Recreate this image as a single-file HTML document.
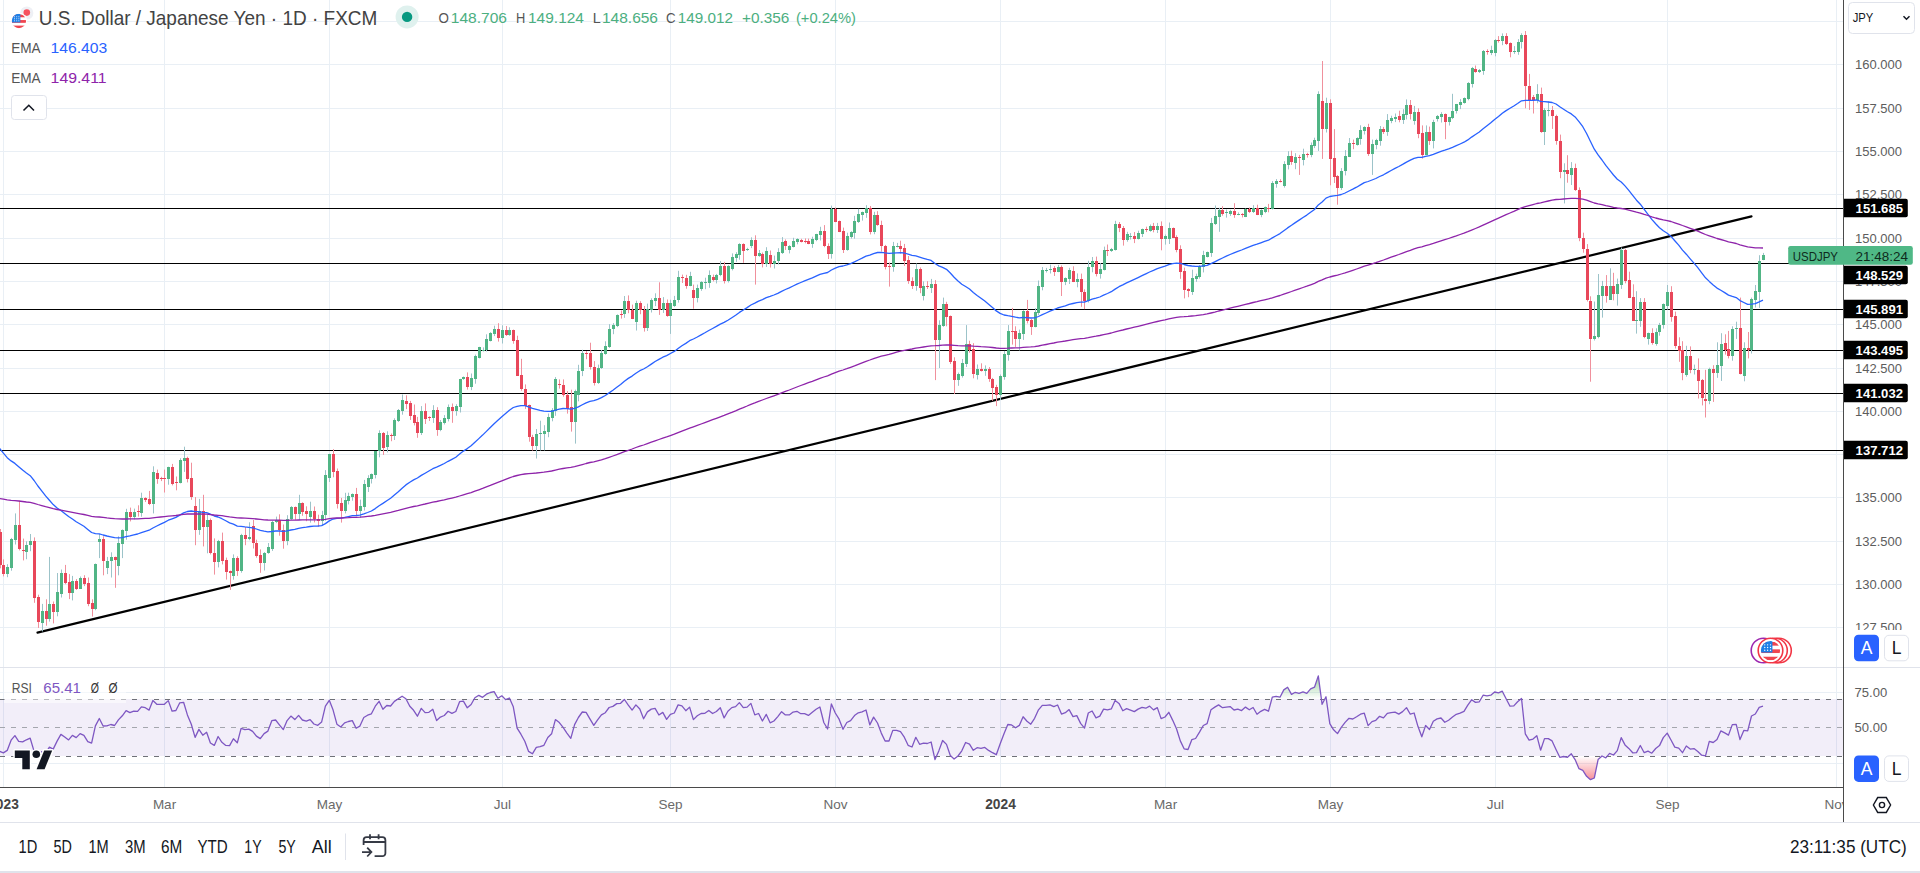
<!DOCTYPE html>
<html><head><meta charset="utf-8"><style>
html,body{margin:0;padding:0;width:1920px;height:873px;overflow:hidden;background:#fff;}
body{position:relative;font-family:"Liberation Sans", sans-serif;}
</style></head><body>
<svg width="1920" height="873" viewBox="0 0 1920 873" style="position:absolute;left:0;top:0" font-family='"Liberation Sans", sans-serif'>
<rect width="1920" height="873" fill="#fff"/>
<line x1="0" y1="627.5" x2="1843" y2="627.5" stroke="#e9eff5" stroke-width="1"/>
<line x1="0" y1="584.5" x2="1843" y2="584.5" stroke="#e9eff5" stroke-width="1"/>
<line x1="0" y1="541.5" x2="1843" y2="541.5" stroke="#e9eff5" stroke-width="1"/>
<line x1="0" y1="497.5" x2="1843" y2="497.5" stroke="#e9eff5" stroke-width="1"/>
<line x1="0" y1="454.5" x2="1843" y2="454.5" stroke="#e9eff5" stroke-width="1"/>
<line x1="0" y1="411.5" x2="1843" y2="411.5" stroke="#e9eff5" stroke-width="1"/>
<line x1="0" y1="368.5" x2="1843" y2="368.5" stroke="#e9eff5" stroke-width="1"/>
<line x1="0" y1="324.5" x2="1843" y2="324.5" stroke="#e9eff5" stroke-width="1"/>
<line x1="0" y1="281.5" x2="1843" y2="281.5" stroke="#e9eff5" stroke-width="1"/>
<line x1="0" y1="238.5" x2="1843" y2="238.5" stroke="#e9eff5" stroke-width="1"/>
<line x1="0" y1="194.5" x2="1843" y2="194.5" stroke="#e9eff5" stroke-width="1"/>
<line x1="0" y1="151.5" x2="1843" y2="151.5" stroke="#e9eff5" stroke-width="1"/>
<line x1="0" y1="108.5" x2="1843" y2="108.5" stroke="#e9eff5" stroke-width="1"/>
<line x1="0" y1="64.5" x2="1843" y2="64.5" stroke="#e9eff5" stroke-width="1"/>
<line x1="0" y1="21.5" x2="1843" y2="21.5" stroke="#e9eff5" stroke-width="1"/>
<line x1="3.5" y1="0" x2="3.5" y2="787" stroke="#e9eff5" stroke-width="1"/>
<line x1="164.5" y1="0" x2="164.5" y2="787" stroke="#e9eff5" stroke-width="1"/>
<line x1="329.5" y1="0" x2="329.5" y2="787" stroke="#e9eff5" stroke-width="1"/>
<line x1="502.5" y1="0" x2="502.5" y2="787" stroke="#e9eff5" stroke-width="1"/>
<line x1="670.5" y1="0" x2="670.5" y2="787" stroke="#e9eff5" stroke-width="1"/>
<line x1="835.5" y1="0" x2="835.5" y2="787" stroke="#e9eff5" stroke-width="1"/>
<line x1="1000.5" y1="0" x2="1000.5" y2="787" stroke="#e9eff5" stroke-width="1"/>
<line x1="1165.5" y1="0" x2="1165.5" y2="787" stroke="#e9eff5" stroke-width="1"/>
<line x1="1330.5" y1="0" x2="1330.5" y2="787" stroke="#e9eff5" stroke-width="1"/>
<line x1="1495.5" y1="0" x2="1495.5" y2="787" stroke="#e9eff5" stroke-width="1"/>
<line x1="1667.5" y1="0" x2="1667.5" y2="787" stroke="#e9eff5" stroke-width="1"/>
<line x1="1836.5" y1="0" x2="1836.5" y2="787" stroke="#e9eff5" stroke-width="1"/>
<line x1="0" y1="692.5" x2="1843" y2="692.5" stroke="#e9eff5" stroke-width="1"/>
<line x1="0" y1="763.5" x2="1843" y2="763.5" stroke="#e9eff5" stroke-width="1"/>
<rect x="0" y="699" width="1843" height="57" fill="#7e57c2" fill-opacity="0.1"/>
<line x1="0" y1="699.5" x2="1843" y2="699.5" stroke="#6f7178" stroke-width="1" stroke-dasharray="5,6"/>
<line x1="0" y1="727.5" x2="1843" y2="727.5" stroke="#a4a6ad" stroke-width="1" stroke-dasharray="5,6"/>
<line x1="0" y1="756.5" x2="1843" y2="756.5" stroke="#6f7178" stroke-width="1" stroke-dasharray="5,6"/>
<g><rect x="0" y="208" width="1843" height="1" fill="#000"/>
<rect x="0" y="263" width="1843" height="1" fill="#000"/>
<rect x="0" y="309" width="1843" height="1" fill="#000"/>
<rect x="0" y="350" width="1843" height="1" fill="#000"/>
<rect x="0" y="393" width="1843" height="1" fill="#000"/>
<rect x="0" y="450" width="1843" height="1" fill="#000"/>
<line x1="37.5" y1="632.6" x2="1751.5" y2="216.4" stroke="#000" stroke-width="2.2" stroke-linecap="round"/></g>
<g><rect x="0" y="529.0" width="1" height="39.3" fill="#f0909c"/>
<rect x="3" y="559.4" width="1" height="17.0" fill="#f0909c"/>
<rect x="7" y="564.2" width="1" height="13.0" fill="#9cc3c9"/>
<rect x="11" y="537.9" width="1" height="32.8" fill="#9cc3c9"/>
<rect x="15" y="513.4" width="1" height="31.1" fill="#9cc3c9"/>
<rect x="19" y="500.7" width="1" height="49.7" fill="#f0909c"/>
<rect x="23" y="538.6" width="1" height="21.8" fill="#f0909c"/>
<rect x="26" y="541.3" width="1" height="17.9" fill="#9cc3c9"/>
<rect x="30" y="534.0" width="1" height="17.2" fill="#9cc3c9"/>
<rect x="34" y="537.4" width="1" height="65.4" fill="#f0909c"/>
<rect x="38" y="594.7" width="1" height="33.2" fill="#f0909c"/>
<rect x="42" y="603.9" width="1" height="27.5" fill="#9cc3c9"/>
<rect x="46" y="599.3" width="1" height="26.4" fill="#f0909c"/>
<rect x="49" y="556.9" width="1" height="64.7" fill="#9cc3c9"/>
<rect x="53" y="601.5" width="1" height="21.9" fill="#f0909c"/>
<rect x="57" y="573.0" width="1" height="43.3" fill="#9cc3c9"/>
<rect x="61" y="569.5" width="1" height="28.0" fill="#9cc3c9"/>
<rect x="65" y="564.9" width="1" height="19.3" fill="#f0909c"/>
<rect x="69" y="574.1" width="1" height="25.0" fill="#f0909c"/>
<rect x="72" y="575.9" width="1" height="24.5" fill="#9cc3c9"/>
<rect x="76" y="579.1" width="1" height="10.8" fill="#f0909c"/>
<rect x="80" y="576.5" width="1" height="12.5" fill="#9cc3c9"/>
<rect x="84" y="575.2" width="1" height="10.9" fill="#f0909c"/>
<rect x="88" y="577.5" width="1" height="28.7" fill="#f0909c"/>
<rect x="92" y="599.3" width="1" height="17.2" fill="#f0909c"/>
<rect x="95" y="563.5" width="1" height="46.7" fill="#9cc3c9"/>
<rect x="99" y="534.0" width="1" height="24.1" fill="#9cc3c9"/>
<rect x="103" y="536.3" width="1" height="39.0" fill="#f0909c"/>
<rect x="107" y="556.9" width="1" height="17.2" fill="#9cc3c9"/>
<rect x="111" y="552.3" width="1" height="25.2" fill="#9cc3c9"/>
<rect x="115" y="556.6" width="1" height="31.2" fill="#f0909c"/>
<rect x="118" y="536.3" width="1" height="39.0" fill="#9cc3c9"/>
<rect x="122" y="529.4" width="1" height="28.7" fill="#9cc3c9"/>
<rect x="126" y="508.8" width="1" height="30.9" fill="#9cc3c9"/>
<rect x="130" y="507.6" width="1" height="13.8" fill="#f0909c"/>
<rect x="134" y="508.6" width="1" height="10.9" fill="#9cc3c9"/>
<rect x="138" y="505.3" width="1" height="11.3" fill="#f0909c"/>
<rect x="141" y="492.7" width="1" height="24.0" fill="#9cc3c9"/>
<rect x="145" y="497.3" width="1" height="4.7" fill="#f0909c"/>
<rect x="149" y="490.9" width="1" height="14.2" fill="#f0909c"/>
<rect x="153" y="466.3" width="1" height="47.1" fill="#9cc3c9"/>
<rect x="157" y="469.6" width="1" height="14.2" fill="#f0909c"/>
<rect x="161" y="476.8" width="1" height="4.3" fill="#f0909c"/>
<rect x="164" y="469.6" width="1" height="22.9" fill="#f0909c"/>
<rect x="168" y="466.7" width="1" height="18.0" fill="#9cc3c9"/>
<rect x="172" y="463.9" width="1" height="21.5" fill="#f0909c"/>
<rect x="176" y="476.5" width="1" height="13.8" fill="#f0909c"/>
<rect x="180" y="458.2" width="1" height="25.2" fill="#9cc3c9"/>
<rect x="184" y="446.7" width="1" height="25.2" fill="#9cc3c9"/>
<rect x="187" y="456.7" width="1" height="25.7" fill="#f0909c"/>
<rect x="191" y="462.7" width="1" height="37.1" fill="#f0909c"/>
<rect x="195" y="497.1" width="1" height="48.1" fill="#f0909c"/>
<rect x="199" y="498.9" width="1" height="35.9" fill="#9cc3c9"/>
<rect x="203" y="494.8" width="1" height="51.6" fill="#f0909c"/>
<rect x="207" y="514.6" width="1" height="38.7" fill="#9cc3c9"/>
<rect x="210" y="518.5" width="1" height="35.9" fill="#f0909c"/>
<rect x="214" y="538.4" width="1" height="36.2" fill="#f0909c"/>
<rect x="218" y="539.9" width="1" height="27.5" fill="#9cc3c9"/>
<rect x="222" y="532.6" width="1" height="31.8" fill="#f0909c"/>
<rect x="226" y="557.6" width="1" height="22.0" fill="#f0909c"/>
<rect x="230" y="570.6" width="1" height="19.3" fill="#f0909c"/>
<rect x="233" y="554.4" width="1" height="25.3" fill="#9cc3c9"/>
<rect x="237" y="556.3" width="1" height="19.6" fill="#f0909c"/>
<rect x="241" y="533.8" width="1" height="38.9" fill="#9cc3c9"/>
<rect x="245" y="526.9" width="1" height="18.3" fill="#f0909c"/>
<rect x="249" y="522.3" width="1" height="17.9" fill="#9cc3c9"/>
<rect x="253" y="520.0" width="1" height="28.5" fill="#f0909c"/>
<rect x="256" y="539.7" width="1" height="18.0" fill="#f0909c"/>
<rect x="260" y="549.4" width="1" height="23.4" fill="#f0909c"/>
<rect x="264" y="552.1" width="1" height="18.4" fill="#9cc3c9"/>
<rect x="268" y="543.0" width="1" height="10.8" fill="#9cc3c9"/>
<rect x="272" y="520.8" width="1" height="30.1" fill="#9cc3c9"/>
<rect x="276" y="516.6" width="1" height="6.5" fill="#9cc3c9"/>
<rect x="279" y="514.3" width="1" height="21.4" fill="#f0909c"/>
<rect x="283" y="524.5" width="1" height="24.2" fill="#f0909c"/>
<rect x="287" y="515.2" width="1" height="30.0" fill="#9cc3c9"/>
<rect x="291" y="506.1" width="1" height="13.7" fill="#9cc3c9"/>
<rect x="295" y="506.5" width="1" height="13.3" fill="#f0909c"/>
<rect x="299" y="494.8" width="1" height="25.3" fill="#9cc3c9"/>
<rect x="302" y="502.3" width="1" height="13.5" fill="#f0909c"/>
<rect x="306" y="506.3" width="1" height="14.9" fill="#f0909c"/>
<rect x="310" y="501.7" width="1" height="20.9" fill="#9cc3c9"/>
<rect x="314" y="506.5" width="1" height="15.9" fill="#f0909c"/>
<rect x="318" y="514.7" width="1" height="12.1" fill="#f0909c"/>
<rect x="322" y="510.8" width="1" height="14.8" fill="#9cc3c9"/>
<rect x="325" y="470.1" width="1" height="50.6" fill="#9cc3c9"/>
<rect x="329" y="453.8" width="1" height="28.2" fill="#9cc3c9"/>
<rect x="333" y="449.2" width="1" height="28.1" fill="#f0909c"/>
<rect x="337" y="468.5" width="1" height="40.0" fill="#f0909c"/>
<rect x="341" y="497.9" width="1" height="24.7" fill="#f0909c"/>
<rect x="345" y="492.8" width="1" height="20.6" fill="#9cc3c9"/>
<rect x="348" y="492.7" width="1" height="11.7" fill="#9cc3c9"/>
<rect x="352" y="493.4" width="1" height="7.3" fill="#9cc3c9"/>
<rect x="356" y="487.9" width="1" height="28.4" fill="#f0909c"/>
<rect x="360" y="499.6" width="1" height="18.3" fill="#9cc3c9"/>
<rect x="364" y="479.9" width="1" height="30.6" fill="#9cc3c9"/>
<rect x="368" y="475.2" width="1" height="16.8" fill="#9cc3c9"/>
<rect x="371" y="473.5" width="1" height="10.0" fill="#9cc3c9"/>
<rect x="375" y="451.0" width="1" height="27.4" fill="#9cc3c9"/>
<rect x="379" y="430.3" width="1" height="27.0" fill="#9cc3c9"/>
<rect x="383" y="432.0" width="1" height="22.9" fill="#f0909c"/>
<rect x="387" y="431.3" width="1" height="21.1" fill="#9cc3c9"/>
<rect x="391" y="433.5" width="1" height="7.7" fill="#f0909c"/>
<rect x="394" y="418.3" width="1" height="21.7" fill="#9cc3c9"/>
<rect x="398" y="409.0" width="1" height="13.0" fill="#9cc3c9"/>
<rect x="402" y="394.5" width="1" height="20.2" fill="#9cc3c9"/>
<rect x="406" y="395.3" width="1" height="13.8" fill="#f0909c"/>
<rect x="410" y="400.9" width="1" height="19.0" fill="#f0909c"/>
<rect x="414" y="404.5" width="1" height="20.9" fill="#f0909c"/>
<rect x="417" y="416.9" width="1" height="20.9" fill="#f0909c"/>
<rect x="421" y="406.1" width="1" height="28.9" fill="#9cc3c9"/>
<rect x="425" y="403.4" width="1" height="20.6" fill="#f0909c"/>
<rect x="429" y="416.3" width="1" height="4.7" fill="#f0909c"/>
<rect x="433" y="405.2" width="1" height="17.7" fill="#9cc3c9"/>
<rect x="437" y="407.2" width="1" height="28.6" fill="#f0909c"/>
<rect x="440" y="420.0" width="1" height="11.2" fill="#9cc3c9"/>
<rect x="444" y="415.1" width="1" height="9.4" fill="#9cc3c9"/>
<rect x="448" y="404.5" width="1" height="16.9" fill="#9cc3c9"/>
<rect x="452" y="403.5" width="1" height="19.3" fill="#f0909c"/>
<rect x="456" y="404.2" width="1" height="11.5" fill="#9cc3c9"/>
<rect x="460" y="378.8" width="1" height="33.7" fill="#9cc3c9"/>
<rect x="463" y="376.5" width="1" height="3.3" fill="#9cc3c9"/>
<rect x="467" y="372.4" width="1" height="17.2" fill="#f0909c"/>
<rect x="471" y="373.5" width="1" height="16.6" fill="#9cc3c9"/>
<rect x="475" y="354.6" width="1" height="29.1" fill="#9cc3c9"/>
<rect x="479" y="346.8" width="1" height="11.6" fill="#9cc3c9"/>
<rect x="483" y="347.4" width="1" height="4.1" fill="#9cc3c9"/>
<rect x="486" y="334.3" width="1" height="17.2" fill="#9cc3c9"/>
<rect x="490" y="332.1" width="1" height="9.3" fill="#9cc3c9"/>
<rect x="494" y="325.7" width="1" height="10.4" fill="#9cc3c9"/>
<rect x="498" y="323.2" width="1" height="18.4" fill="#f0909c"/>
<rect x="502" y="325.3" width="1" height="18.2" fill="#9cc3c9"/>
<rect x="506" y="326.0" width="1" height="9.9" fill="#f0909c"/>
<rect x="509" y="327.3" width="1" height="8.5" fill="#9cc3c9"/>
<rect x="513" y="329.6" width="1" height="14.1" fill="#f0909c"/>
<rect x="517" y="335.7" width="1" height="39.8" fill="#f0909c"/>
<rect x="521" y="358.8" width="1" height="31.9" fill="#f0909c"/>
<rect x="525" y="384.4" width="1" height="24.5" fill="#f0909c"/>
<rect x="529" y="404.6" width="1" height="37.1" fill="#f0909c"/>
<rect x="532" y="434.8" width="1" height="15.8" fill="#f0909c"/>
<rect x="536" y="429.0" width="1" height="29.5" fill="#9cc3c9"/>
<rect x="540" y="420.7" width="1" height="29.8" fill="#9cc3c9"/>
<rect x="544" y="425.2" width="1" height="25.2" fill="#9cc3c9"/>
<rect x="548" y="413.5" width="1" height="23.7" fill="#9cc3c9"/>
<rect x="552" y="408.1" width="1" height="13.2" fill="#9cc3c9"/>
<rect x="555" y="377.1" width="1" height="38.7" fill="#9cc3c9"/>
<rect x="559" y="379.4" width="1" height="9.2" fill="#f0909c"/>
<rect x="563" y="379.4" width="1" height="17.3" fill="#f0909c"/>
<rect x="567" y="391.1" width="1" height="22.5" fill="#f0909c"/>
<rect x="571" y="389.7" width="1" height="41.9" fill="#f0909c"/>
<rect x="575" y="389.6" width="1" height="54.0" fill="#9cc3c9"/>
<rect x="578" y="364.8" width="1" height="36.5" fill="#9cc3c9"/>
<rect x="582" y="349.8" width="1" height="26.3" fill="#9cc3c9"/>
<rect x="586" y="351.1" width="1" height="8.1" fill="#f0909c"/>
<rect x="590" y="342.7" width="1" height="26.8" fill="#f0909c"/>
<rect x="594" y="361.1" width="1" height="24.4" fill="#f0909c"/>
<rect x="598" y="364.6" width="1" height="19.3" fill="#9cc3c9"/>
<rect x="601" y="350.1" width="1" height="18.8" fill="#9cc3c9"/>
<rect x="605" y="341.3" width="1" height="13.4" fill="#9cc3c9"/>
<rect x="609" y="324.2" width="1" height="23.7" fill="#9cc3c9"/>
<rect x="613" y="323.1" width="1" height="11.1" fill="#9cc3c9"/>
<rect x="617" y="314.4" width="1" height="12.7" fill="#9cc3c9"/>
<rect x="621" y="310.5" width="1" height="8.1" fill="#f0909c"/>
<rect x="624" y="296.0" width="1" height="21.8" fill="#9cc3c9"/>
<rect x="628" y="295.4" width="1" height="17.8" fill="#f0909c"/>
<rect x="632" y="304.6" width="1" height="14.5" fill="#f0909c"/>
<rect x="636" y="300.7" width="1" height="29.8" fill="#9cc3c9"/>
<rect x="640" y="301.2" width="1" height="13.0" fill="#f0909c"/>
<rect x="644" y="306.0" width="1" height="25.6" fill="#f0909c"/>
<rect x="647" y="303.6" width="1" height="27.4" fill="#9cc3c9"/>
<rect x="651" y="298.3" width="1" height="14.2" fill="#9cc3c9"/>
<rect x="655" y="293.3" width="1" height="12.8" fill="#9cc3c9"/>
<rect x="659" y="282.3" width="1" height="32.6" fill="#f0909c"/>
<rect x="663" y="297.1" width="1" height="15.8" fill="#9cc3c9"/>
<rect x="667" y="299.5" width="1" height="17.3" fill="#f0909c"/>
<rect x="670" y="299.7" width="1" height="34.2" fill="#9cc3c9"/>
<rect x="674" y="295.9" width="1" height="11.0" fill="#9cc3c9"/>
<rect x="678" y="270.8" width="1" height="31.8" fill="#9cc3c9"/>
<rect x="682" y="274.6" width="1" height="8.4" fill="#f0909c"/>
<rect x="686" y="274.8" width="1" height="13.9" fill="#f0909c"/>
<rect x="690" y="271.8" width="1" height="14.4" fill="#9cc3c9"/>
<rect x="693" y="284.6" width="1" height="24.1" fill="#f0909c"/>
<rect x="697" y="284.6" width="1" height="17.8" fill="#9cc3c9"/>
<rect x="701" y="281.2" width="1" height="9.6" fill="#9cc3c9"/>
<rect x="705" y="277.7" width="1" height="11.5" fill="#9cc3c9"/>
<rect x="709" y="270.4" width="1" height="17.4" fill="#9cc3c9"/>
<rect x="713" y="274.6" width="1" height="6.8" fill="#f0909c"/>
<rect x="716" y="273.9" width="1" height="9.5" fill="#9cc3c9"/>
<rect x="720" y="261.1" width="1" height="15.1" fill="#9cc3c9"/>
<rect x="724" y="261.9" width="1" height="21.6" fill="#f0909c"/>
<rect x="728" y="265.2" width="1" height="17.3" fill="#9cc3c9"/>
<rect x="732" y="253.4" width="1" height="17.0" fill="#9cc3c9"/>
<rect x="736" y="252.2" width="1" height="9.7" fill="#9cc3c9"/>
<rect x="739" y="243.2" width="1" height="16.5" fill="#9cc3c9"/>
<rect x="743" y="243.3" width="1" height="19.5" fill="#f0909c"/>
<rect x="747" y="247.8" width="1" height="3.1" fill="#9cc3c9"/>
<rect x="751" y="237.3" width="1" height="10.8" fill="#9cc3c9"/>
<rect x="755" y="235.3" width="1" height="49.3" fill="#f0909c"/>
<rect x="759" y="250.0" width="1" height="6.8" fill="#9cc3c9"/>
<rect x="762" y="252.5" width="1" height="14.9" fill="#f0909c"/>
<rect x="766" y="247.2" width="1" height="19.7" fill="#9cc3c9"/>
<rect x="770" y="250.5" width="1" height="17.0" fill="#f0909c"/>
<rect x="774" y="255.6" width="1" height="12.9" fill="#9cc3c9"/>
<rect x="778" y="248.2" width="1" height="16.3" fill="#9cc3c9"/>
<rect x="782" y="237.1" width="1" height="16.9" fill="#9cc3c9"/>
<rect x="785" y="239.4" width="1" height="10.5" fill="#f0909c"/>
<rect x="789" y="245.2" width="1" height="8.2" fill="#9cc3c9"/>
<rect x="793" y="237.8" width="1" height="9.6" fill="#9cc3c9"/>
<rect x="797" y="238.3" width="1" height="6.0" fill="#9cc3c9"/>
<rect x="801" y="238.8" width="1" height="3.6" fill="#f0909c"/>
<rect x="805" y="238.4" width="1" height="4.9" fill="#f0909c"/>
<rect x="808" y="238.6" width="1" height="5.6" fill="#f0909c"/>
<rect x="812" y="236.7" width="1" height="11.1" fill="#9cc3c9"/>
<rect x="816" y="233.8" width="1" height="7.4" fill="#9cc3c9"/>
<rect x="820" y="226.8" width="1" height="13.7" fill="#9cc3c9"/>
<rect x="824" y="225.1" width="1" height="22.1" fill="#f0909c"/>
<rect x="828" y="243.4" width="1" height="15.6" fill="#f0909c"/>
<rect x="831" y="205.6" width="1" height="53.0" fill="#9cc3c9"/>
<rect x="835" y="207.5" width="1" height="14.7" fill="#f0909c"/>
<rect x="839" y="220.6" width="1" height="11.5" fill="#f0909c"/>
<rect x="843" y="227.6" width="1" height="25.4" fill="#f0909c"/>
<rect x="847" y="232.7" width="1" height="18.0" fill="#9cc3c9"/>
<rect x="851" y="231.2" width="1" height="7.4" fill="#9cc3c9"/>
<rect x="854" y="215.8" width="1" height="22.9" fill="#9cc3c9"/>
<rect x="858" y="208.8" width="1" height="14.2" fill="#9cc3c9"/>
<rect x="862" y="211.6" width="1" height="9.0" fill="#9cc3c9"/>
<rect x="866" y="205.2" width="1" height="12.6" fill="#9cc3c9"/>
<rect x="870" y="206.0" width="1" height="28.4" fill="#f0909c"/>
<rect x="874" y="211.8" width="1" height="22.4" fill="#9cc3c9"/>
<rect x="877" y="211.2" width="1" height="14.6" fill="#f0909c"/>
<rect x="881" y="220.7" width="1" height="30.8" fill="#f0909c"/>
<rect x="885" y="244.9" width="1" height="24.5" fill="#f0909c"/>
<rect x="889" y="262.5" width="1" height="24.1" fill="#f0909c"/>
<rect x="893" y="241.9" width="1" height="29.8" fill="#9cc3c9"/>
<rect x="897" y="242.9" width="1" height="4.5" fill="#9cc3c9"/>
<rect x="900" y="240.7" width="1" height="12.9" fill="#f0909c"/>
<rect x="904" y="243.9" width="1" height="22.0" fill="#f0909c"/>
<rect x="908" y="256.0" width="1" height="27.8" fill="#f0909c"/>
<rect x="912" y="277.3" width="1" height="11.7" fill="#f0909c"/>
<rect x="916" y="263.5" width="1" height="27.2" fill="#9cc3c9"/>
<rect x="920" y="267.4" width="1" height="25.8" fill="#f0909c"/>
<rect x="923" y="281.4" width="1" height="19.0" fill="#9cc3c9"/>
<rect x="927" y="281.2" width="1" height="7.8" fill="#f0909c"/>
<rect x="931" y="278.9" width="1" height="14.1" fill="#9cc3c9"/>
<rect x="935" y="280.1" width="1" height="100.0" fill="#f0909c"/>
<rect x="939" y="320.3" width="1" height="47.7" fill="#9cc3c9"/>
<rect x="943" y="297.6" width="1" height="29.2" fill="#9cc3c9"/>
<rect x="946" y="301.8" width="1" height="24.5" fill="#f0909c"/>
<rect x="950" y="315.5" width="1" height="48.5" fill="#f0909c"/>
<rect x="954" y="357.3" width="1" height="36.6" fill="#f0909c"/>
<rect x="958" y="372.6" width="1" height="13.2" fill="#9cc3c9"/>
<rect x="962" y="359.0" width="1" height="18.6" fill="#9cc3c9"/>
<rect x="966" y="325.1" width="1" height="41.9" fill="#9cc3c9"/>
<rect x="969" y="340.7" width="1" height="12.0" fill="#f0909c"/>
<rect x="973" y="343.2" width="1" height="35.1" fill="#f0909c"/>
<rect x="977" y="364.5" width="1" height="15.0" fill="#9cc3c9"/>
<rect x="981" y="363.3" width="1" height="8.2" fill="#f0909c"/>
<rect x="985" y="365.4" width="1" height="10.4" fill="#9cc3c9"/>
<rect x="989" y="367.1" width="1" height="14.7" fill="#f0909c"/>
<rect x="992" y="377.9" width="1" height="22.9" fill="#f0909c"/>
<rect x="996" y="384.8" width="1" height="21.3" fill="#f0909c"/>
<rect x="1000" y="374.5" width="1" height="25.5" fill="#9cc3c9"/>
<rect x="1004" y="350.9" width="1" height="28.8" fill="#9cc3c9"/>
<rect x="1008" y="325.1" width="1" height="35.6" fill="#9cc3c9"/>
<rect x="1012" y="307.9" width="1" height="36.7" fill="#f0909c"/>
<rect x="1015" y="326.3" width="1" height="20.6" fill="#f0909c"/>
<rect x="1019" y="329.6" width="1" height="20.8" fill="#9cc3c9"/>
<rect x="1023" y="310.2" width="1" height="29.7" fill="#9cc3c9"/>
<rect x="1027" y="299.9" width="1" height="23.5" fill="#f0909c"/>
<rect x="1031" y="318.8" width="1" height="16.1" fill="#f0909c"/>
<rect x="1035" y="308.2" width="1" height="19.1" fill="#9cc3c9"/>
<rect x="1038" y="280.5" width="1" height="34.6" fill="#9cc3c9"/>
<rect x="1042" y="267.0" width="1" height="23.3" fill="#9cc3c9"/>
<rect x="1046" y="267.9" width="1" height="4.6" fill="#9cc3c9"/>
<rect x="1050" y="264.6" width="1" height="8.9" fill="#9cc3c9"/>
<rect x="1054" y="266.1" width="1" height="9.9" fill="#f0909c"/>
<rect x="1058" y="264.9" width="1" height="7.3" fill="#9cc3c9"/>
<rect x="1061" y="265.4" width="1" height="30.6" fill="#f0909c"/>
<rect x="1065" y="277.4" width="1" height="7.7" fill="#9cc3c9"/>
<rect x="1069" y="267.8" width="1" height="16.2" fill="#9cc3c9"/>
<rect x="1073" y="266.3" width="1" height="15.8" fill="#f0909c"/>
<rect x="1077" y="273.4" width="1" height="13.9" fill="#9cc3c9"/>
<rect x="1081" y="273.6" width="1" height="33.2" fill="#f0909c"/>
<rect x="1084" y="289.3" width="1" height="19.8" fill="#f0909c"/>
<rect x="1088" y="260.8" width="1" height="41.7" fill="#9cc3c9"/>
<rect x="1092" y="257.0" width="1" height="15.3" fill="#9cc3c9"/>
<rect x="1096" y="256.6" width="1" height="19.8" fill="#f0909c"/>
<rect x="1100" y="263.2" width="1" height="15.4" fill="#9cc3c9"/>
<rect x="1104" y="246.6" width="1" height="23.8" fill="#9cc3c9"/>
<rect x="1107" y="244.5" width="1" height="11.5" fill="#f0909c"/>
<rect x="1111" y="247.9" width="1" height="4.0" fill="#9cc3c9"/>
<rect x="1115" y="220.8" width="1" height="29.7" fill="#9cc3c9"/>
<rect x="1119" y="222.0" width="1" height="10.1" fill="#f0909c"/>
<rect x="1123" y="226.0" width="1" height="19.6" fill="#f0909c"/>
<rect x="1127" y="231.8" width="1" height="9.9" fill="#9cc3c9"/>
<rect x="1130" y="233.1" width="1" height="6.4" fill="#9cc3c9"/>
<rect x="1134" y="232.0" width="1" height="11.1" fill="#f0909c"/>
<rect x="1138" y="230.7" width="1" height="8.8" fill="#9cc3c9"/>
<rect x="1142" y="228.6" width="1" height="8.4" fill="#9cc3c9"/>
<rect x="1146" y="226.7" width="1" height="5.4" fill="#f0909c"/>
<rect x="1150" y="224.5" width="1" height="7.2" fill="#9cc3c9"/>
<rect x="1153" y="222.9" width="1" height="9.4" fill="#f0909c"/>
<rect x="1157" y="222.9" width="1" height="10.1" fill="#9cc3c9"/>
<rect x="1161" y="221.4" width="1" height="28.9" fill="#f0909c"/>
<rect x="1165" y="234.5" width="1" height="10.1" fill="#9cc3c9"/>
<rect x="1169" y="222.5" width="1" height="21.5" fill="#9cc3c9"/>
<rect x="1173" y="227.5" width="1" height="10.6" fill="#f0909c"/>
<rect x="1176" y="235.3" width="1" height="17.0" fill="#f0909c"/>
<rect x="1180" y="245.3" width="1" height="33.5" fill="#f0909c"/>
<rect x="1184" y="267.6" width="1" height="30.8" fill="#f0909c"/>
<rect x="1188" y="288.2" width="1" height="9.0" fill="#f0909c"/>
<rect x="1192" y="269.7" width="1" height="25.2" fill="#9cc3c9"/>
<rect x="1196" y="273.7" width="1" height="8.1" fill="#9cc3c9"/>
<rect x="1199" y="265.0" width="1" height="13.6" fill="#9cc3c9"/>
<rect x="1203" y="250.8" width="1" height="21.6" fill="#9cc3c9"/>
<rect x="1207" y="251.6" width="1" height="5.8" fill="#9cc3c9"/>
<rect x="1211" y="217.9" width="1" height="38.9" fill="#9cc3c9"/>
<rect x="1215" y="205.5" width="1" height="19.5" fill="#9cc3c9"/>
<rect x="1219" y="207.8" width="1" height="24.0" fill="#9cc3c9"/>
<rect x="1222" y="206.2" width="1" height="9.5" fill="#f0909c"/>
<rect x="1226" y="209.5" width="1" height="8.1" fill="#9cc3c9"/>
<rect x="1230" y="209.8" width="1" height="6.1" fill="#9cc3c9"/>
<rect x="1234" y="203.2" width="1" height="14.6" fill="#f0909c"/>
<rect x="1238" y="212.4" width="1" height="2.8" fill="#9cc3c9"/>
<rect x="1242" y="213.1" width="1" height="4.3" fill="#f0909c"/>
<rect x="1245" y="208.5" width="1" height="8.6" fill="#9cc3c9"/>
<rect x="1249" y="207.5" width="1" height="5.4" fill="#f0909c"/>
<rect x="1253" y="205.1" width="1" height="7.9" fill="#9cc3c9"/>
<rect x="1257" y="204.7" width="1" height="10.4" fill="#f0909c"/>
<rect x="1261" y="209.2" width="1" height="8.0" fill="#9cc3c9"/>
<rect x="1265" y="206.5" width="1" height="6.7" fill="#9cc3c9"/>
<rect x="1268" y="203.9" width="1" height="8.4" fill="#f0909c"/>
<rect x="1272" y="181.1" width="1" height="28.3" fill="#9cc3c9"/>
<rect x="1276" y="179.1" width="1" height="8.6" fill="#9cc3c9"/>
<rect x="1280" y="179.2" width="1" height="3.2" fill="#f0909c"/>
<rect x="1284" y="161.2" width="1" height="26.4" fill="#9cc3c9"/>
<rect x="1288" y="151.2" width="1" height="18.2" fill="#9cc3c9"/>
<rect x="1291" y="150.7" width="1" height="14.1" fill="#f0909c"/>
<rect x="1295" y="153.2" width="1" height="16.0" fill="#9cc3c9"/>
<rect x="1299" y="154.9" width="1" height="20.0" fill="#f0909c"/>
<rect x="1303" y="148.7" width="1" height="16.7" fill="#9cc3c9"/>
<rect x="1307" y="152.8" width="1" height="4.8" fill="#f0909c"/>
<rect x="1311" y="142.5" width="1" height="14.7" fill="#9cc3c9"/>
<rect x="1314" y="137.7" width="1" height="10.4" fill="#9cc3c9"/>
<rect x="1318" y="91.3" width="1" height="59.6" fill="#9cc3c9"/>
<rect x="1322" y="61.0" width="1" height="97.9" fill="#f0909c"/>
<rect x="1326" y="97.7" width="1" height="34.8" fill="#9cc3c9"/>
<rect x="1330" y="99.3" width="1" height="86.0" fill="#f0909c"/>
<rect x="1334" y="129.1" width="1" height="53.9" fill="#f0909c"/>
<rect x="1337" y="175.1" width="1" height="29.6" fill="#f0909c"/>
<rect x="1341" y="168.1" width="1" height="21.8" fill="#9cc3c9"/>
<rect x="1345" y="150.1" width="1" height="25.3" fill="#9cc3c9"/>
<rect x="1349" y="138.0" width="1" height="19.1" fill="#9cc3c9"/>
<rect x="1353" y="139.6" width="1" height="9.6" fill="#f0909c"/>
<rect x="1357" y="137.3" width="1" height="8.3" fill="#9cc3c9"/>
<rect x="1360" y="125.3" width="1" height="19.4" fill="#9cc3c9"/>
<rect x="1364" y="126.3" width="1" height="8.2" fill="#9cc3c9"/>
<rect x="1368" y="123.8" width="1" height="32.1" fill="#f0909c"/>
<rect x="1372" y="139.6" width="1" height="35.3" fill="#9cc3c9"/>
<rect x="1376" y="138.8" width="1" height="10.5" fill="#9cc3c9"/>
<rect x="1380" y="126.0" width="1" height="19.7" fill="#9cc3c9"/>
<rect x="1383" y="126.9" width="1" height="7.1" fill="#f0909c"/>
<rect x="1387" y="114.1" width="1" height="21.7" fill="#9cc3c9"/>
<rect x="1391" y="115.7" width="1" height="7.5" fill="#9cc3c9"/>
<rect x="1395" y="113.5" width="1" height="8.6" fill="#9cc3c9"/>
<rect x="1399" y="110.7" width="1" height="11.6" fill="#f0909c"/>
<rect x="1403" y="109.2" width="1" height="14.7" fill="#9cc3c9"/>
<rect x="1406" y="99.4" width="1" height="20.0" fill="#9cc3c9"/>
<rect x="1410" y="100.0" width="1" height="19.5" fill="#f0909c"/>
<rect x="1414" y="105.9" width="1" height="18.8" fill="#9cc3c9"/>
<rect x="1418" y="108.3" width="1" height="29.9" fill="#f0909c"/>
<rect x="1422" y="125.4" width="1" height="33.2" fill="#f0909c"/>
<rect x="1426" y="125.4" width="1" height="29.8" fill="#9cc3c9"/>
<rect x="1429" y="126.6" width="1" height="18.3" fill="#f0909c"/>
<rect x="1433" y="119.8" width="1" height="28.6" fill="#9cc3c9"/>
<rect x="1437" y="115.0" width="1" height="6.5" fill="#9cc3c9"/>
<rect x="1441" y="112.2" width="1" height="10.3" fill="#9cc3c9"/>
<rect x="1445" y="113.5" width="1" height="25.7" fill="#f0909c"/>
<rect x="1449" y="116.8" width="1" height="8.7" fill="#9cc3c9"/>
<rect x="1452" y="93.8" width="1" height="25.3" fill="#9cc3c9"/>
<rect x="1456" y="103.9" width="1" height="9.6" fill="#9cc3c9"/>
<rect x="1460" y="99.1" width="1" height="10.0" fill="#9cc3c9"/>
<rect x="1464" y="97.4" width="1" height="6.2" fill="#9cc3c9"/>
<rect x="1468" y="82.1" width="1" height="18.2" fill="#9cc3c9"/>
<rect x="1472" y="66.9" width="1" height="20.6" fill="#9cc3c9"/>
<rect x="1475" y="65.5" width="1" height="7.3" fill="#f0909c"/>
<rect x="1479" y="69.0" width="1" height="4.0" fill="#9cc3c9"/>
<rect x="1483" y="50.0" width="1" height="24.8" fill="#9cc3c9"/>
<rect x="1487" y="49.3" width="1" height="5.4" fill="#f0909c"/>
<rect x="1491" y="45.7" width="1" height="9.4" fill="#9cc3c9"/>
<rect x="1495" y="39.1" width="1" height="17.2" fill="#9cc3c9"/>
<rect x="1498" y="36.1" width="1" height="6.5" fill="#f0909c"/>
<rect x="1502" y="33.4" width="1" height="11.8" fill="#9cc3c9"/>
<rect x="1506" y="33.2" width="1" height="11.8" fill="#f0909c"/>
<rect x="1510" y="42.4" width="1" height="14.9" fill="#f0909c"/>
<rect x="1514" y="46.1" width="1" height="7.8" fill="#9cc3c9"/>
<rect x="1518" y="39.1" width="1" height="15.7" fill="#9cc3c9"/>
<rect x="1521" y="33.3" width="1" height="15.2" fill="#9cc3c9"/>
<rect x="1525" y="31.0" width="1" height="77.3" fill="#f0909c"/>
<rect x="1529" y="73.9" width="1" height="36.0" fill="#f0909c"/>
<rect x="1533" y="95.0" width="1" height="18.5" fill="#f0909c"/>
<rect x="1537" y="84.2" width="1" height="19.0" fill="#9cc3c9"/>
<rect x="1541" y="87.6" width="1" height="45.2" fill="#f0909c"/>
<rect x="1544" y="108.2" width="1" height="36.8" fill="#9cc3c9"/>
<rect x="1548" y="101.4" width="1" height="14.9" fill="#9cc3c9"/>
<rect x="1552" y="106.0" width="1" height="22.9" fill="#f0909c"/>
<rect x="1556" y="114.7" width="1" height="30.0" fill="#f0909c"/>
<rect x="1560" y="134.6" width="1" height="43.6" fill="#f0909c"/>
<rect x="1564" y="163.3" width="1" height="40.1" fill="#9cc3c9"/>
<rect x="1567" y="155.2" width="1" height="27.5" fill="#f0909c"/>
<rect x="1571" y="162.1" width="1" height="22.9" fill="#9cc3c9"/>
<rect x="1575" y="163.6" width="1" height="27.3" fill="#f0909c"/>
<rect x="1579" y="187.4" width="1" height="53.8" fill="#f0909c"/>
<rect x="1583" y="232.7" width="1" height="20.0" fill="#f0909c"/>
<rect x="1587" y="244.1" width="1" height="57.4" fill="#f0909c"/>
<rect x="1590" y="296.3" width="1" height="85.4" fill="#f0909c"/>
<rect x="1594" y="301.5" width="1" height="39.0" fill="#9cc3c9"/>
<rect x="1598" y="274.0" width="1" height="64.3" fill="#9cc3c9"/>
<rect x="1602" y="280.9" width="1" height="36.7" fill="#9cc3c9"/>
<rect x="1606" y="275.1" width="1" height="27.5" fill="#f0909c"/>
<rect x="1610" y="268.3" width="1" height="31.4" fill="#9cc3c9"/>
<rect x="1613" y="272.8" width="1" height="27.5" fill="#f0909c"/>
<rect x="1617" y="278.6" width="1" height="27.0" fill="#9cc3c9"/>
<rect x="1621" y="247.6" width="1" height="41.3" fill="#9cc3c9"/>
<rect x="1625" y="248.8" width="1" height="34.5" fill="#f0909c"/>
<rect x="1629" y="271.7" width="1" height="26.4" fill="#f0909c"/>
<rect x="1633" y="284.3" width="1" height="36.7" fill="#f0909c"/>
<rect x="1636" y="291.2" width="1" height="42.4" fill="#9cc3c9"/>
<rect x="1640" y="298.1" width="1" height="28.7" fill="#9cc3c9"/>
<rect x="1644" y="298.1" width="1" height="40.1" fill="#f0909c"/>
<rect x="1648" y="332.6" width="1" height="12.0" fill="#9cc3c9"/>
<rect x="1652" y="328.3" width="1" height="16.4" fill="#f0909c"/>
<rect x="1656" y="328.3" width="1" height="17.4" fill="#9cc3c9"/>
<rect x="1659" y="322.9" width="1" height="12.8" fill="#9cc3c9"/>
<rect x="1663" y="303.4" width="1" height="25.2" fill="#9cc3c9"/>
<rect x="1667" y="285.0" width="1" height="24.6" fill="#9cc3c9"/>
<rect x="1671" y="286.2" width="1" height="35.5" fill="#f0909c"/>
<rect x="1675" y="311.6" width="1" height="36.9" fill="#f0909c"/>
<rect x="1679" y="337.3" width="1" height="24.5" fill="#f0909c"/>
<rect x="1682" y="341.2" width="1" height="39.0" fill="#f0909c"/>
<rect x="1686" y="345.8" width="1" height="30.9" fill="#9cc3c9"/>
<rect x="1690" y="346.4" width="1" height="26.8" fill="#f0909c"/>
<rect x="1694" y="364.6" width="1" height="9.9" fill="#9cc3c9"/>
<rect x="1698" y="358.4" width="1" height="40.1" fill="#f0909c"/>
<rect x="1702" y="379.0" width="1" height="26.4" fill="#f0909c"/>
<rect x="1705" y="369.8" width="1" height="47.7" fill="#f0909c"/>
<rect x="1709" y="367.7" width="1" height="36.5" fill="#9cc3c9"/>
<rect x="1713" y="365.2" width="1" height="36.7" fill="#f0909c"/>
<rect x="1717" y="342.3" width="1" height="35.5" fill="#9cc3c9"/>
<rect x="1721" y="333.2" width="1" height="47.7" fill="#9cc3c9"/>
<rect x="1725" y="334.3" width="1" height="20.3" fill="#f0909c"/>
<rect x="1728" y="330.9" width="1" height="27.5" fill="#f0909c"/>
<rect x="1732" y="326.3" width="1" height="34.4" fill="#9cc3c9"/>
<rect x="1736" y="321.7" width="1" height="17.2" fill="#9cc3c9"/>
<rect x="1740" y="297.6" width="1" height="76.8" fill="#f0909c"/>
<rect x="1744" y="342.3" width="1" height="39.0" fill="#9cc3c9"/>
<rect x="1748" y="332.0" width="1" height="26.4" fill="#f0909c"/>
<rect x="1751" y="297.6" width="1" height="55.9" fill="#9cc3c9"/>
<rect x="1755" y="285.0" width="1" height="22.5" fill="#9cc3c9"/>
<rect x="1759" y="255.2" width="1" height="52.7" fill="#9cc3c9"/>
<rect x="1763" y="252.9" width="1" height="7.3" fill="#9cc3c9"/>
<rect x="-1" y="532" width="3" height="33" fill="#e8475a"/>
<rect x="2" y="565" width="3" height="9" fill="#e8475a"/>
<rect x="6" y="567" width="3" height="7" fill="#51b585"/>
<rect x="10" y="539" width="3" height="29" fill="#51b585"/>
<rect x="14" y="525" width="3" height="15" fill="#51b585"/>
<rect x="18" y="525" width="3" height="24" fill="#e8475a"/>
<rect x="22" y="550" width="3" height="1" fill="#e8475a"/>
<rect x="25" y="545" width="3" height="7" fill="#51b585"/>
<rect x="29" y="541" width="3" height="4" fill="#51b585"/>
<rect x="33" y="541" width="3" height="57" fill="#e8475a"/>
<rect x="37" y="597" width="3" height="25" fill="#e8475a"/>
<rect x="41" y="611" width="3" height="12" fill="#51b585"/>
<rect x="45" y="611" width="3" height="8" fill="#e8475a"/>
<rect x="48" y="604" width="3" height="15" fill="#51b585"/>
<rect x="52" y="604" width="3" height="8" fill="#e8475a"/>
<rect x="56" y="592" width="3" height="20" fill="#51b585"/>
<rect x="60" y="573" width="3" height="21" fill="#51b585"/>
<rect x="64" y="573" width="3" height="10" fill="#e8475a"/>
<rect x="68" y="582" width="3" height="11" fill="#e8475a"/>
<rect x="71" y="581" width="3" height="12" fill="#51b585"/>
<rect x="75" y="581" width="3" height="8" fill="#e8475a"/>
<rect x="79" y="578" width="3" height="11" fill="#51b585"/>
<rect x="83" y="578" width="3" height="6" fill="#e8475a"/>
<rect x="87" y="583" width="3" height="21" fill="#e8475a"/>
<rect x="91" y="603" width="3" height="6" fill="#e8475a"/>
<rect x="94" y="564" width="3" height="45" fill="#51b585"/>
<rect x="98" y="539" width="3" height="3" fill="#51b585"/>
<rect x="102" y="539" width="3" height="22" fill="#e8475a"/>
<rect x="106" y="561" width="3" height="7" fill="#51b585"/>
<rect x="110" y="557" width="3" height="4" fill="#51b585"/>
<rect x="114" y="557" width="3" height="3" fill="#e8475a"/>
<rect x="117" y="543" width="3" height="23" fill="#51b585"/>
<rect x="121" y="530" width="3" height="14" fill="#51b585"/>
<rect x="125" y="512" width="3" height="19" fill="#51b585"/>
<rect x="129" y="512" width="3" height="5" fill="#e8475a"/>
<rect x="133" y="512" width="3" height="5" fill="#51b585"/>
<rect x="137" y="511" width="3" height="1" fill="#e8475a"/>
<rect x="140" y="498" width="3" height="15" fill="#51b585"/>
<rect x="144" y="498" width="3" height="2" fill="#e8475a"/>
<rect x="148" y="499" width="3" height="5" fill="#e8475a"/>
<rect x="152" y="472" width="3" height="32" fill="#51b585"/>
<rect x="156" y="473" width="3" height="6" fill="#e8475a"/>
<rect x="160" y="478" width="3" height="1" fill="#e8475a"/>
<rect x="163" y="478" width="3" height="1" fill="#e8475a"/>
<rect x="167" y="467" width="3" height="12" fill="#51b585"/>
<rect x="171" y="467" width="3" height="17" fill="#e8475a"/>
<rect x="175" y="482" width="3" height="1" fill="#e8475a"/>
<rect x="179" y="460" width="3" height="23" fill="#51b585"/>
<rect x="183" y="458" width="3" height="3" fill="#51b585"/>
<rect x="186" y="458" width="3" height="21" fill="#e8475a"/>
<rect x="190" y="478" width="3" height="19" fill="#e8475a"/>
<rect x="194" y="506" width="3" height="24" fill="#e8475a"/>
<rect x="198" y="511" width="3" height="19" fill="#51b585"/>
<rect x="202" y="511" width="3" height="16" fill="#e8475a"/>
<rect x="206" y="520" width="3" height="7" fill="#51b585"/>
<rect x="209" y="520" width="3" height="33" fill="#e8475a"/>
<rect x="213" y="553" width="3" height="9" fill="#e8475a"/>
<rect x="217" y="541" width="3" height="21" fill="#51b585"/>
<rect x="221" y="541" width="3" height="20" fill="#e8475a"/>
<rect x="225" y="560" width="3" height="12" fill="#e8475a"/>
<rect x="229" y="571" width="3" height="2" fill="#e8475a"/>
<rect x="232" y="558" width="3" height="18" fill="#51b585"/>
<rect x="236" y="558" width="3" height="13" fill="#e8475a"/>
<rect x="240" y="535" width="3" height="36" fill="#51b585"/>
<rect x="244" y="535" width="3" height="4" fill="#e8475a"/>
<rect x="248" y="537" width="3" height="2" fill="#51b585"/>
<rect x="252" y="526" width="3" height="17" fill="#e8475a"/>
<rect x="255" y="543" width="3" height="13" fill="#e8475a"/>
<rect x="259" y="555" width="3" height="8" fill="#e8475a"/>
<rect x="263" y="553" width="3" height="10" fill="#51b585"/>
<rect x="267" y="547" width="3" height="6" fill="#51b585"/>
<rect x="271" y="522" width="3" height="27" fill="#51b585"/>
<rect x="275" y="520" width="3" height="2" fill="#51b585"/>
<rect x="278" y="520" width="3" height="10" fill="#e8475a"/>
<rect x="282" y="530" width="3" height="11" fill="#e8475a"/>
<rect x="286" y="519" width="3" height="22" fill="#51b585"/>
<rect x="290" y="507" width="3" height="12" fill="#51b585"/>
<rect x="294" y="507" width="3" height="7" fill="#e8475a"/>
<rect x="298" y="503" width="3" height="11" fill="#51b585"/>
<rect x="301" y="503" width="3" height="9" fill="#e8475a"/>
<rect x="305" y="511" width="3" height="3" fill="#e8475a"/>
<rect x="309" y="511" width="3" height="6" fill="#51b585"/>
<rect x="313" y="511" width="3" height="8" fill="#e8475a"/>
<rect x="317" y="519" width="3" height="2" fill="#e8475a"/>
<rect x="321" y="515" width="3" height="6" fill="#51b585"/>
<rect x="324" y="475" width="3" height="40" fill="#51b585"/>
<rect x="328" y="454" width="3" height="24" fill="#51b585"/>
<rect x="332" y="454" width="3" height="18" fill="#e8475a"/>
<rect x="336" y="471" width="3" height="33" fill="#e8475a"/>
<rect x="340" y="503" width="3" height="8" fill="#e8475a"/>
<rect x="344" y="500" width="3" height="11" fill="#51b585"/>
<rect x="347" y="496" width="3" height="5" fill="#51b585"/>
<rect x="351" y="494" width="3" height="3" fill="#51b585"/>
<rect x="355" y="494" width="3" height="17" fill="#e8475a"/>
<rect x="359" y="506" width="3" height="5" fill="#51b585"/>
<rect x="363" y="484" width="3" height="23" fill="#51b585"/>
<rect x="367" y="478" width="3" height="9" fill="#51b585"/>
<rect x="370" y="474" width="3" height="5" fill="#51b585"/>
<rect x="374" y="451" width="3" height="24" fill="#51b585"/>
<rect x="378" y="433" width="3" height="18" fill="#51b585"/>
<rect x="382" y="433" width="3" height="15" fill="#e8475a"/>
<rect x="386" y="435" width="3" height="12" fill="#51b585"/>
<rect x="390" y="435" width="3" height="1" fill="#e8475a"/>
<rect x="393" y="420" width="3" height="16" fill="#51b585"/>
<rect x="397" y="410" width="3" height="11" fill="#51b585"/>
<rect x="401" y="400" width="3" height="11" fill="#51b585"/>
<rect x="405" y="401" width="3" height="3" fill="#e8475a"/>
<rect x="409" y="403" width="3" height="13" fill="#e8475a"/>
<rect x="413" y="415" width="3" height="8" fill="#e8475a"/>
<rect x="416" y="422" width="3" height="11" fill="#e8475a"/>
<rect x="420" y="411" width="3" height="22" fill="#51b585"/>
<rect x="424" y="411" width="3" height="8" fill="#e8475a"/>
<rect x="428" y="417" width="3" height="1" fill="#e8475a"/>
<rect x="432" y="410" width="3" height="8" fill="#51b585"/>
<rect x="436" y="410" width="3" height="20" fill="#e8475a"/>
<rect x="439" y="422" width="3" height="8" fill="#51b585"/>
<rect x="443" y="418" width="3" height="5" fill="#51b585"/>
<rect x="447" y="407" width="3" height="12" fill="#51b585"/>
<rect x="451" y="407" width="3" height="4" fill="#e8475a"/>
<rect x="455" y="406" width="3" height="5" fill="#51b585"/>
<rect x="459" y="379" width="3" height="28" fill="#51b585"/>
<rect x="462" y="377" width="3" height="2" fill="#51b585"/>
<rect x="466" y="377" width="3" height="10" fill="#e8475a"/>
<rect x="470" y="378" width="3" height="9" fill="#51b585"/>
<rect x="474" y="356" width="3" height="23" fill="#51b585"/>
<rect x="478" y="347" width="3" height="11" fill="#51b585"/>
<rect x="482" y="350" width="3" height="1" fill="#51b585"/>
<rect x="485" y="339" width="3" height="11" fill="#51b585"/>
<rect x="489" y="333" width="3" height="8" fill="#51b585"/>
<rect x="493" y="329" width="3" height="5" fill="#51b585"/>
<rect x="497" y="329" width="3" height="9" fill="#e8475a"/>
<rect x="501" y="330" width="3" height="8" fill="#51b585"/>
<rect x="505" y="330" width="3" height="5" fill="#e8475a"/>
<rect x="508" y="330" width="3" height="5" fill="#51b585"/>
<rect x="512" y="330" width="3" height="11" fill="#e8475a"/>
<rect x="516" y="340" width="3" height="36" fill="#e8475a"/>
<rect x="520" y="375" width="3" height="14" fill="#e8475a"/>
<rect x="524" y="389" width="3" height="17" fill="#e8475a"/>
<rect x="528" y="405" width="3" height="32" fill="#e8475a"/>
<rect x="531" y="437" width="3" height="9" fill="#e8475a"/>
<rect x="535" y="434" width="3" height="12" fill="#51b585"/>
<rect x="539" y="433" width="3" height="1" fill="#51b585"/>
<rect x="543" y="431" width="3" height="3" fill="#51b585"/>
<rect x="547" y="417" width="3" height="15" fill="#51b585"/>
<rect x="551" y="410" width="3" height="8" fill="#51b585"/>
<rect x="554" y="379" width="3" height="32" fill="#51b585"/>
<rect x="558" y="384" width="3" height="1" fill="#e8475a"/>
<rect x="562" y="385" width="3" height="10" fill="#e8475a"/>
<rect x="566" y="395" width="3" height="14" fill="#e8475a"/>
<rect x="570" y="407" width="3" height="15" fill="#e8475a"/>
<rect x="574" y="391" width="3" height="31" fill="#51b585"/>
<rect x="577" y="371" width="3" height="24" fill="#51b585"/>
<rect x="581" y="353" width="3" height="18" fill="#51b585"/>
<rect x="585" y="353" width="3" height="1" fill="#e8475a"/>
<rect x="589" y="353" width="3" height="14" fill="#e8475a"/>
<rect x="593" y="367" width="3" height="16" fill="#e8475a"/>
<rect x="597" y="368" width="3" height="15" fill="#51b585"/>
<rect x="600" y="353" width="3" height="15" fill="#51b585"/>
<rect x="604" y="346" width="3" height="8" fill="#51b585"/>
<rect x="608" y="329" width="3" height="18" fill="#51b585"/>
<rect x="612" y="325" width="3" height="4" fill="#51b585"/>
<rect x="616" y="315" width="3" height="11" fill="#51b585"/>
<rect x="620" y="314" width="3" height="1" fill="#e8475a"/>
<rect x="623" y="301" width="3" height="13" fill="#51b585"/>
<rect x="627" y="301" width="3" height="9" fill="#e8475a"/>
<rect x="631" y="310" width="3" height="9" fill="#e8475a"/>
<rect x="635" y="303" width="3" height="19" fill="#51b585"/>
<rect x="639" y="303" width="3" height="7" fill="#e8475a"/>
<rect x="643" y="310" width="3" height="18" fill="#e8475a"/>
<rect x="646" y="309" width="3" height="19" fill="#51b585"/>
<rect x="650" y="300" width="3" height="10" fill="#51b585"/>
<rect x="654" y="298" width="3" height="3" fill="#51b585"/>
<rect x="658" y="298" width="3" height="12" fill="#e8475a"/>
<rect x="662" y="303" width="3" height="7" fill="#51b585"/>
<rect x="666" y="303" width="3" height="13" fill="#e8475a"/>
<rect x="669" y="303" width="3" height="13" fill="#51b585"/>
<rect x="673" y="300" width="3" height="6" fill="#51b585"/>
<rect x="677" y="277" width="3" height="23" fill="#51b585"/>
<rect x="681" y="277" width="3" height="1" fill="#e8475a"/>
<rect x="685" y="278" width="3" height="8" fill="#e8475a"/>
<rect x="689" y="276" width="3" height="10" fill="#51b585"/>
<rect x="692" y="290" width="3" height="8" fill="#e8475a"/>
<rect x="696" y="288" width="3" height="10" fill="#51b585"/>
<rect x="700" y="282" width="3" height="7" fill="#51b585"/>
<rect x="704" y="282" width="3" height="1" fill="#51b585"/>
<rect x="708" y="275" width="3" height="8" fill="#51b585"/>
<rect x="712" y="277" width="3" height="3" fill="#e8475a"/>
<rect x="715" y="275" width="3" height="5" fill="#51b585"/>
<rect x="719" y="266" width="3" height="9" fill="#51b585"/>
<rect x="723" y="266" width="3" height="15" fill="#e8475a"/>
<rect x="727" y="266" width="3" height="15" fill="#51b585"/>
<rect x="731" y="257" width="3" height="12" fill="#51b585"/>
<rect x="735" y="254" width="3" height="4" fill="#51b585"/>
<rect x="738" y="244" width="3" height="11" fill="#51b585"/>
<rect x="742" y="244" width="3" height="7" fill="#e8475a"/>
<rect x="746" y="249" width="3" height="1" fill="#51b585"/>
<rect x="750" y="240" width="3" height="6" fill="#51b585"/>
<rect x="754" y="240" width="3" height="16" fill="#e8475a"/>
<rect x="758" y="253" width="3" height="3" fill="#51b585"/>
<rect x="761" y="254" width="3" height="10" fill="#e8475a"/>
<rect x="765" y="251" width="3" height="13" fill="#51b585"/>
<rect x="769" y="255" width="3" height="9" fill="#e8475a"/>
<rect x="773" y="261" width="3" height="3" fill="#51b585"/>
<rect x="777" y="252" width="3" height="9" fill="#51b585"/>
<rect x="781" y="242" width="3" height="11" fill="#51b585"/>
<rect x="784" y="241" width="3" height="5" fill="#e8475a"/>
<rect x="788" y="246" width="3" height="4" fill="#51b585"/>
<rect x="792" y="241" width="3" height="6" fill="#51b585"/>
<rect x="796" y="239" width="3" height="3" fill="#51b585"/>
<rect x="800" y="240" width="3" height="2" fill="#e8475a"/>
<rect x="804" y="241" width="3" height="1" fill="#e8475a"/>
<rect x="807" y="241" width="3" height="3" fill="#e8475a"/>
<rect x="811" y="239" width="3" height="5" fill="#51b585"/>
<rect x="815" y="234" width="3" height="6" fill="#51b585"/>
<rect x="819" y="231" width="3" height="4" fill="#51b585"/>
<rect x="823" y="231" width="3" height="15" fill="#e8475a"/>
<rect x="827" y="246" width="3" height="8" fill="#e8475a"/>
<rect x="830" y="209" width="3" height="45" fill="#51b585"/>
<rect x="834" y="209" width="3" height="13" fill="#e8475a"/>
<rect x="838" y="221" width="3" height="11" fill="#e8475a"/>
<rect x="842" y="231" width="3" height="19" fill="#e8475a"/>
<rect x="846" y="236" width="3" height="14" fill="#51b585"/>
<rect x="850" y="232" width="3" height="5" fill="#51b585"/>
<rect x="853" y="221" width="3" height="12" fill="#51b585"/>
<rect x="857" y="214" width="3" height="8" fill="#51b585"/>
<rect x="861" y="212" width="3" height="3" fill="#51b585"/>
<rect x="865" y="208" width="3" height="5" fill="#51b585"/>
<rect x="869" y="208" width="3" height="24" fill="#e8475a"/>
<rect x="873" y="215" width="3" height="17" fill="#51b585"/>
<rect x="876" y="215" width="3" height="10" fill="#e8475a"/>
<rect x="880" y="225" width="3" height="21" fill="#e8475a"/>
<rect x="884" y="246" width="3" height="21" fill="#e8475a"/>
<rect x="888" y="266" width="3" height="1" fill="#e8475a"/>
<rect x="892" y="246" width="3" height="21" fill="#51b585"/>
<rect x="896" y="246" width="3" height="1" fill="#51b585"/>
<rect x="899" y="246" width="3" height="3" fill="#e8475a"/>
<rect x="903" y="248" width="3" height="13" fill="#e8475a"/>
<rect x="907" y="260" width="3" height="21" fill="#e8475a"/>
<rect x="911" y="281" width="3" height="5" fill="#e8475a"/>
<rect x="915" y="269" width="3" height="17" fill="#51b585"/>
<rect x="919" y="269" width="3" height="19" fill="#e8475a"/>
<rect x="922" y="286" width="3" height="10" fill="#51b585"/>
<rect x="926" y="286" width="3" height="1" fill="#e8475a"/>
<rect x="930" y="284" width="3" height="4" fill="#51b585"/>
<rect x="934" y="284" width="3" height="56" fill="#e8475a"/>
<rect x="938" y="325" width="3" height="15" fill="#51b585"/>
<rect x="942" y="304" width="3" height="22" fill="#51b585"/>
<rect x="945" y="304" width="3" height="13" fill="#e8475a"/>
<rect x="949" y="316" width="3" height="46" fill="#e8475a"/>
<rect x="953" y="361" width="3" height="19" fill="#e8475a"/>
<rect x="957" y="374" width="3" height="6" fill="#51b585"/>
<rect x="961" y="363" width="3" height="13" fill="#51b585"/>
<rect x="965" y="344" width="3" height="20" fill="#51b585"/>
<rect x="968" y="344" width="3" height="6" fill="#e8475a"/>
<rect x="972" y="349" width="3" height="25" fill="#e8475a"/>
<rect x="976" y="369" width="3" height="6" fill="#51b585"/>
<rect x="980" y="369" width="3" height="2" fill="#e8475a"/>
<rect x="984" y="369" width="3" height="2" fill="#51b585"/>
<rect x="988" y="369" width="3" height="10" fill="#e8475a"/>
<rect x="991" y="379" width="3" height="9" fill="#e8475a"/>
<rect x="995" y="387" width="3" height="8" fill="#e8475a"/>
<rect x="999" y="376" width="3" height="19" fill="#51b585"/>
<rect x="1003" y="354" width="3" height="23" fill="#51b585"/>
<rect x="1007" y="331" width="3" height="24" fill="#51b585"/>
<rect x="1011" y="331" width="3" height="1" fill="#e8475a"/>
<rect x="1014" y="331" width="3" height="8" fill="#e8475a"/>
<rect x="1018" y="333" width="3" height="6" fill="#51b585"/>
<rect x="1022" y="311" width="3" height="23" fill="#51b585"/>
<rect x="1026" y="311" width="3" height="10" fill="#e8475a"/>
<rect x="1030" y="320" width="3" height="7" fill="#e8475a"/>
<rect x="1034" y="312" width="3" height="15" fill="#51b585"/>
<rect x="1037" y="286" width="3" height="27" fill="#51b585"/>
<rect x="1041" y="270" width="3" height="17" fill="#51b585"/>
<rect x="1045" y="270" width="3" height="1" fill="#51b585"/>
<rect x="1049" y="269" width="3" height="1" fill="#51b585"/>
<rect x="1053" y="268" width="3" height="4" fill="#e8475a"/>
<rect x="1057" y="267" width="3" height="5" fill="#51b585"/>
<rect x="1060" y="267" width="3" height="15" fill="#e8475a"/>
<rect x="1064" y="278" width="3" height="4" fill="#51b585"/>
<rect x="1068" y="270" width="3" height="9" fill="#51b585"/>
<rect x="1072" y="271" width="3" height="11" fill="#e8475a"/>
<rect x="1076" y="279" width="3" height="3" fill="#51b585"/>
<rect x="1080" y="279" width="3" height="13" fill="#e8475a"/>
<rect x="1083" y="292" width="3" height="9" fill="#e8475a"/>
<rect x="1087" y="267" width="3" height="34" fill="#51b585"/>
<rect x="1091" y="261" width="3" height="6" fill="#51b585"/>
<rect x="1095" y="261" width="3" height="13" fill="#e8475a"/>
<rect x="1099" y="269" width="3" height="5" fill="#51b585"/>
<rect x="1103" y="250" width="3" height="20" fill="#51b585"/>
<rect x="1106" y="250" width="3" height="1" fill="#e8475a"/>
<rect x="1110" y="249" width="3" height="2" fill="#51b585"/>
<rect x="1114" y="224" width="3" height="26" fill="#51b585"/>
<rect x="1118" y="224" width="3" height="4" fill="#e8475a"/>
<rect x="1122" y="228" width="3" height="12" fill="#e8475a"/>
<rect x="1126" y="234" width="3" height="6" fill="#51b585"/>
<rect x="1129" y="236" width="3" height="1" fill="#51b585"/>
<rect x="1133" y="236" width="3" height="3" fill="#e8475a"/>
<rect x="1137" y="233" width="3" height="6" fill="#51b585"/>
<rect x="1141" y="229" width="3" height="5" fill="#51b585"/>
<rect x="1145" y="229" width="3" height="1" fill="#e8475a"/>
<rect x="1149" y="226" width="3" height="5" fill="#51b585"/>
<rect x="1152" y="226" width="3" height="4" fill="#e8475a"/>
<rect x="1156" y="226" width="3" height="4" fill="#51b585"/>
<rect x="1160" y="226" width="3" height="13" fill="#e8475a"/>
<rect x="1164" y="236" width="3" height="3" fill="#51b585"/>
<rect x="1168" y="228" width="3" height="11" fill="#51b585"/>
<rect x="1172" y="228" width="3" height="10" fill="#e8475a"/>
<rect x="1175" y="237" width="3" height="13" fill="#e8475a"/>
<rect x="1179" y="249" width="3" height="23" fill="#e8475a"/>
<rect x="1183" y="271" width="3" height="19" fill="#e8475a"/>
<rect x="1187" y="289" width="3" height="2" fill="#e8475a"/>
<rect x="1191" y="278" width="3" height="14" fill="#51b585"/>
<rect x="1195" y="276" width="3" height="3" fill="#51b585"/>
<rect x="1198" y="266" width="3" height="11" fill="#51b585"/>
<rect x="1202" y="255" width="3" height="12" fill="#51b585"/>
<rect x="1206" y="252" width="3" height="5" fill="#51b585"/>
<rect x="1210" y="223" width="3" height="30" fill="#51b585"/>
<rect x="1214" y="216" width="3" height="8" fill="#51b585"/>
<rect x="1218" y="210" width="3" height="7" fill="#51b585"/>
<rect x="1221" y="210" width="3" height="4" fill="#e8475a"/>
<rect x="1225" y="212" width="3" height="1" fill="#51b585"/>
<rect x="1229" y="211" width="3" height="3" fill="#51b585"/>
<rect x="1233" y="211" width="3" height="4" fill="#e8475a"/>
<rect x="1237" y="214" width="3" height="1" fill="#51b585"/>
<rect x="1241" y="214" width="3" height="1" fill="#e8475a"/>
<rect x="1244" y="209" width="3" height="8" fill="#51b585"/>
<rect x="1248" y="209" width="3" height="3" fill="#e8475a"/>
<rect x="1252" y="208" width="3" height="4" fill="#51b585"/>
<rect x="1256" y="208" width="3" height="7" fill="#e8475a"/>
<rect x="1260" y="210" width="3" height="5" fill="#51b585"/>
<rect x="1264" y="207" width="3" height="5" fill="#51b585"/>
<rect x="1267" y="208" width="3" height="1" fill="#e8475a"/>
<rect x="1271" y="183" width="3" height="26" fill="#51b585"/>
<rect x="1275" y="181" width="3" height="3" fill="#51b585"/>
<rect x="1279" y="181" width="3" height="1" fill="#e8475a"/>
<rect x="1283" y="164" width="3" height="22" fill="#51b585"/>
<rect x="1287" y="156" width="3" height="9" fill="#51b585"/>
<rect x="1290" y="156" width="3" height="6" fill="#e8475a"/>
<rect x="1294" y="157" width="3" height="6" fill="#51b585"/>
<rect x="1298" y="157" width="3" height="1" fill="#e8475a"/>
<rect x="1302" y="154" width="3" height="6" fill="#51b585"/>
<rect x="1306" y="154" width="3" height="1" fill="#e8475a"/>
<rect x="1310" y="145" width="3" height="10" fill="#51b585"/>
<rect x="1313" y="140" width="3" height="6" fill="#51b585"/>
<rect x="1317" y="94" width="3" height="47" fill="#51b585"/>
<rect x="1321" y="101" width="3" height="28" fill="#e8475a"/>
<rect x="1325" y="103" width="3" height="26" fill="#51b585"/>
<rect x="1329" y="103" width="3" height="56" fill="#e8475a"/>
<rect x="1333" y="158" width="3" height="19" fill="#e8475a"/>
<rect x="1336" y="176" width="3" height="12" fill="#e8475a"/>
<rect x="1340" y="171" width="3" height="17" fill="#51b585"/>
<rect x="1344" y="156" width="3" height="15" fill="#51b585"/>
<rect x="1348" y="143" width="3" height="14" fill="#51b585"/>
<rect x="1352" y="143" width="3" height="1" fill="#e8475a"/>
<rect x="1356" y="138" width="3" height="7" fill="#51b585"/>
<rect x="1359" y="130" width="3" height="9" fill="#51b585"/>
<rect x="1363" y="127" width="3" height="4" fill="#51b585"/>
<rect x="1367" y="127" width="3" height="27" fill="#e8475a"/>
<rect x="1371" y="144" width="3" height="10" fill="#51b585"/>
<rect x="1375" y="140" width="3" height="5" fill="#51b585"/>
<rect x="1379" y="129" width="3" height="12" fill="#51b585"/>
<rect x="1382" y="129" width="3" height="3" fill="#e8475a"/>
<rect x="1386" y="120" width="3" height="12" fill="#51b585"/>
<rect x="1390" y="118" width="3" height="3" fill="#51b585"/>
<rect x="1394" y="117" width="3" height="2" fill="#51b585"/>
<rect x="1398" y="116" width="3" height="4" fill="#e8475a"/>
<rect x="1402" y="114" width="3" height="6" fill="#51b585"/>
<rect x="1405" y="105" width="3" height="10" fill="#51b585"/>
<rect x="1409" y="105" width="3" height="9" fill="#e8475a"/>
<rect x="1413" y="112" width="3" height="9" fill="#51b585"/>
<rect x="1417" y="112" width="3" height="22" fill="#e8475a"/>
<rect x="1421" y="133" width="3" height="22" fill="#e8475a"/>
<rect x="1425" y="132" width="3" height="23" fill="#51b585"/>
<rect x="1428" y="132" width="3" height="9" fill="#e8475a"/>
<rect x="1432" y="122" width="3" height="19" fill="#51b585"/>
<rect x="1436" y="116" width="3" height="3" fill="#51b585"/>
<rect x="1440" y="114" width="3" height="3" fill="#51b585"/>
<rect x="1444" y="114" width="3" height="8" fill="#e8475a"/>
<rect x="1448" y="117" width="3" height="5" fill="#51b585"/>
<rect x="1451" y="111" width="3" height="7" fill="#51b585"/>
<rect x="1455" y="104" width="3" height="7" fill="#51b585"/>
<rect x="1459" y="102" width="3" height="3" fill="#51b585"/>
<rect x="1463" y="98" width="3" height="5" fill="#51b585"/>
<rect x="1467" y="83" width="3" height="16" fill="#51b585"/>
<rect x="1471" y="68" width="3" height="16" fill="#51b585"/>
<rect x="1474" y="69" width="3" height="3" fill="#e8475a"/>
<rect x="1478" y="70" width="3" height="2" fill="#51b585"/>
<rect x="1482" y="51" width="3" height="20" fill="#51b585"/>
<rect x="1486" y="51" width="3" height="1" fill="#e8475a"/>
<rect x="1490" y="50" width="3" height="3" fill="#51b585"/>
<rect x="1494" y="40" width="3" height="13" fill="#51b585"/>
<rect x="1497" y="40" width="3" height="1" fill="#e8475a"/>
<rect x="1501" y="36" width="3" height="5" fill="#51b585"/>
<rect x="1505" y="36" width="3" height="8" fill="#e8475a"/>
<rect x="1509" y="43" width="3" height="9" fill="#e8475a"/>
<rect x="1513" y="51" width="3" height="1" fill="#51b585"/>
<rect x="1517" y="42" width="3" height="10" fill="#51b585"/>
<rect x="1520" y="35" width="3" height="7" fill="#51b585"/>
<rect x="1524" y="35" width="3" height="51" fill="#e8475a"/>
<rect x="1528" y="86" width="3" height="15" fill="#e8475a"/>
<rect x="1532" y="97" width="3" height="3" fill="#e8475a"/>
<rect x="1536" y="94" width="3" height="6" fill="#51b585"/>
<rect x="1540" y="94" width="3" height="38" fill="#e8475a"/>
<rect x="1543" y="110" width="3" height="22" fill="#51b585"/>
<rect x="1547" y="110" width="3" height="1" fill="#51b585"/>
<rect x="1551" y="110" width="3" height="6" fill="#e8475a"/>
<rect x="1555" y="116" width="3" height="25" fill="#e8475a"/>
<rect x="1559" y="141" width="3" height="31" fill="#e8475a"/>
<rect x="1563" y="170" width="3" height="2" fill="#51b585"/>
<rect x="1566" y="170" width="3" height="4" fill="#e8475a"/>
<rect x="1570" y="168" width="3" height="7" fill="#51b585"/>
<rect x="1574" y="168" width="3" height="22" fill="#e8475a"/>
<rect x="1578" y="190" width="3" height="48" fill="#e8475a"/>
<rect x="1582" y="238" width="3" height="11" fill="#e8475a"/>
<rect x="1586" y="249" width="3" height="51" fill="#e8475a"/>
<rect x="1589" y="301" width="3" height="38" fill="#e8475a"/>
<rect x="1593" y="336" width="3" height="3" fill="#51b585"/>
<rect x="1597" y="295" width="3" height="42" fill="#51b585"/>
<rect x="1601" y="286" width="3" height="10" fill="#51b585"/>
<rect x="1605" y="286" width="3" height="10" fill="#e8475a"/>
<rect x="1609" y="286" width="3" height="14" fill="#51b585"/>
<rect x="1612" y="286" width="3" height="8" fill="#e8475a"/>
<rect x="1616" y="284" width="3" height="10" fill="#51b585"/>
<rect x="1620" y="250" width="3" height="35" fill="#51b585"/>
<rect x="1624" y="250" width="3" height="31" fill="#e8475a"/>
<rect x="1628" y="280" width="3" height="18" fill="#e8475a"/>
<rect x="1632" y="297" width="3" height="24" fill="#e8475a"/>
<rect x="1635" y="320" width="3" height="1" fill="#51b585"/>
<rect x="1639" y="302" width="3" height="19" fill="#51b585"/>
<rect x="1643" y="302" width="3" height="35" fill="#e8475a"/>
<rect x="1647" y="333" width="3" height="6" fill="#51b585"/>
<rect x="1651" y="333" width="3" height="10" fill="#e8475a"/>
<rect x="1655" y="332" width="3" height="12" fill="#51b585"/>
<rect x="1658" y="325" width="3" height="7" fill="#51b585"/>
<rect x="1662" y="304" width="3" height="21" fill="#51b585"/>
<rect x="1666" y="292" width="3" height="14" fill="#51b585"/>
<rect x="1670" y="292" width="3" height="25" fill="#e8475a"/>
<rect x="1674" y="316" width="3" height="30" fill="#e8475a"/>
<rect x="1678" y="346" width="3" height="5" fill="#e8475a"/>
<rect x="1681" y="350" width="3" height="23" fill="#e8475a"/>
<rect x="1685" y="356" width="3" height="19" fill="#51b585"/>
<rect x="1689" y="356" width="3" height="14" fill="#e8475a"/>
<rect x="1693" y="369" width="3" height="1" fill="#51b585"/>
<rect x="1697" y="370" width="3" height="11" fill="#e8475a"/>
<rect x="1701" y="380" width="3" height="18" fill="#e8475a"/>
<rect x="1704" y="399" width="3" height="2" fill="#e8475a"/>
<rect x="1708" y="369" width="3" height="32" fill="#51b585"/>
<rect x="1712" y="369" width="3" height="4" fill="#e8475a"/>
<rect x="1716" y="365" width="3" height="8" fill="#51b585"/>
<rect x="1720" y="344" width="3" height="22" fill="#51b585"/>
<rect x="1724" y="343" width="3" height="7" fill="#e8475a"/>
<rect x="1727" y="349" width="3" height="7" fill="#e8475a"/>
<rect x="1731" y="329" width="3" height="27" fill="#51b585"/>
<rect x="1735" y="328" width="3" height="1" fill="#51b585"/>
<rect x="1739" y="328" width="3" height="46" fill="#e8475a"/>
<rect x="1743" y="348" width="3" height="28" fill="#51b585"/>
<rect x="1747" y="348" width="3" height="2" fill="#e8475a"/>
<rect x="1750" y="299" width="3" height="51" fill="#51b585"/>
<rect x="1754" y="291" width="3" height="9" fill="#51b585"/>
<rect x="1758" y="261" width="3" height="31" fill="#51b585"/>
<rect x="1762" y="255" width="3" height="5" fill="#51b585"/></g>
<polyline points="-0.4,448.3 3.4,453.2 7.2,457.7 11.1,460.9 14.9,463.4 18.7,466.7 22.6,470.1 26.4,473.0 30.2,475.7 34.1,480.5 37.9,486.0 41.7,490.9 45.6,495.9 49.4,500.2 53.2,504.6 57.1,508.0 60.9,510.5 64.7,513.4 68.6,516.5 72.4,519.0 76.2,521.8 80.1,524.0 83.9,526.3 87.8,529.4 91.6,532.5 95.4,533.7 99.3,533.9 103.1,535.0 106.9,536.0 110.8,536.8 114.6,537.7 118.4,537.9 122.3,537.6 126.1,536.6 129.9,535.9 133.8,534.9 137.6,534.0 141.4,532.6 145.3,531.3 149.1,530.2 152.9,528.0 156.8,526.0 160.6,524.2 164.4,522.4 168.3,520.2 172.1,518.8 175.9,517.4 179.8,515.1 183.6,512.9 187.4,511.5 191.3,511.0 195.1,511.7 198.9,511.7 202.8,512.3 206.6,512.6 210.4,514.2 214.3,516.0 218.1,517.0 221.9,518.7 225.8,520.8 229.6,522.9 233.4,524.2 237.3,526.1 241.1,526.4 244.9,526.9 248.8,527.3 252.6,527.9 256.4,529.0 260.3,530.4 264.1,531.2 267.9,531.9 271.8,531.5 275.6,531.0 279.4,531.0 283.3,531.4 287.1,530.9 290.9,530.0 294.8,529.4 298.6,528.3 302.4,527.7 306.3,527.2 310.1,526.5 313.9,526.2 317.8,526.0 321.6,525.6 325.4,523.6 329.3,520.9 333.1,519.0 336.9,518.4 340.8,518.1 344.6,517.4 348.4,516.6 352.3,515.7 356.1,515.5 359.9,515.1 363.8,513.9 367.6,512.5 371.4,511.0 375.3,508.6 379.1,505.7 382.9,503.4 386.8,500.7 390.6,498.2 394.4,495.1 398.3,491.8 402.1,488.2 405.9,484.9 409.8,482.2 413.6,479.9 417.4,478.0 421.3,475.4 425.1,473.2 428.9,471.0 432.8,468.7 436.6,467.1 440.4,465.4 444.3,463.5 448.1,461.3 451.9,459.3 455.8,457.2 459.6,454.1 463.4,451.1 467.3,448.6 471.1,445.8 474.9,442.3 478.8,438.6 482.6,435.1 486.4,431.4 490.3,427.5 494.1,423.7 497.9,420.3 501.8,416.7 505.6,413.5 509.4,410.3 513.3,407.5 517.1,406.3 520.9,405.6 524.8,405.6 528.6,406.8 532.4,408.4 536.3,409.4 540.1,410.3 543.9,411.1 547.8,411.4 551.6,411.3 555.4,410.1 559.3,409.1 563.1,408.5 566.9,408.6 570.8,409.1 574.6,408.4 578.4,406.9 582.3,404.8 586.1,402.8 589.9,401.4 593.8,400.7 597.6,399.4 601.4,397.6 605.3,395.5 609.1,392.9 612.9,390.3 616.8,387.3 620.6,384.5 624.4,381.2 628.3,378.4 632.1,376.1 635.9,373.2 639.8,370.7 643.6,369.0 647.4,366.7 651.3,364.1 655.1,361.5 658.9,359.4 662.8,357.2 666.6,355.6 670.4,353.5 674.3,351.4 678.1,348.5 681.9,345.7 685.8,343.4 689.6,340.7 693.4,339.0 697.3,337.0 701.1,334.9 704.9,332.8 708.8,330.5 712.6,328.5 716.4,326.4 720.3,324.1 724.1,322.4 727.9,320.2 731.8,317.7 735.6,315.2 739.4,312.4 743.3,310.0 747.1,307.6 750.9,305.0 754.8,303.1 758.6,301.1 762.4,299.7 766.3,297.7 770.1,296.4 773.9,295.0 777.8,293.3 781.6,291.3 785.4,289.5 789.3,287.8 793.1,286.0 796.9,284.1 800.8,282.5 804.6,280.9 808.4,279.4 812.3,277.8 816.1,276.1 819.9,274.4 823.8,273.3 827.6,272.5 831.4,270.0 835.3,268.1 839.1,266.7 843.0,266.0 846.8,264.9 850.6,263.6 854.5,261.9 858.3,260.0 862.1,258.2 866.0,256.2 869.8,255.2 873.6,253.6 877.5,252.5 881.3,252.3 885.1,252.9 889.0,253.4 892.8,253.1 896.6,252.8 900.5,252.7 904.3,253.0 908.1,254.1 912.0,255.3 915.8,255.9 919.6,257.1 923.5,258.3 927.3,259.4 931.1,260.4 935.0,263.5 938.8,265.9 942.6,267.4 946.5,269.3 950.3,273.0 954.1,277.2 958.0,281.0 961.8,284.2 965.6,286.5 969.5,289.0 973.3,292.4 977.1,295.4 981.0,298.3 984.8,301.1 988.6,304.2 992.5,307.4 996.3,310.9 1000.1,313.4 1004.0,315.0 1007.8,315.7 1011.6,316.3 1015.5,317.2 1019.3,317.8 1023.1,317.5 1027.0,317.7 1030.8,318.0 1034.6,317.8 1038.5,316.5 1042.3,314.7 1046.1,313.0 1050.0,311.2 1053.8,309.7 1057.6,308.0 1061.5,306.9 1065.3,305.8 1069.1,304.4 1073.0,303.5 1076.8,302.6 1080.6,302.2 1084.5,302.1 1088.3,300.7 1092.1,299.2 1096.0,298.2 1099.8,297.0 1103.6,295.2 1107.5,293.5 1111.3,291.7 1115.1,289.1 1119.0,286.7 1122.8,284.9 1126.6,282.9 1130.5,281.1 1134.3,279.4 1138.1,277.6 1142.0,275.7 1145.8,273.9 1149.6,272.0 1153.5,270.4 1157.3,268.6 1161.1,267.4 1165.0,266.2 1168.8,264.7 1172.6,263.6 1176.5,263.1 1180.3,263.4 1184.1,264.5 1188.0,265.5 1191.8,266.0 1195.6,266.4 1199.5,266.4 1203.3,265.9 1207.1,265.4 1211.0,263.7 1214.8,261.8 1218.6,259.8 1222.5,258.0 1226.3,256.2 1230.1,254.5 1234.0,252.9 1237.8,251.4 1241.6,250.0 1245.5,248.4 1249.3,246.9 1253.1,245.4 1257.0,244.2 1260.8,242.8 1264.6,241.4 1268.5,240.2 1272.3,237.9 1276.1,235.7 1280.0,233.6 1283.8,230.8 1287.6,227.9 1291.5,225.3 1295.3,222.6 1299.1,220.1 1303.0,217.5 1306.8,215.1 1310.6,212.3 1314.5,209.5 1318.3,204.9 1322.1,202.0 1326.0,198.1 1329.8,196.5 1333.6,195.8 1337.5,195.4 1341.3,194.5 1345.1,193.0 1349.0,191.0 1352.8,189.2 1356.6,187.2 1360.5,184.9 1364.3,182.6 1368.1,181.5 1372.0,180.0 1375.8,178.5 1379.6,176.5 1383.5,174.8 1387.3,172.6 1391.1,170.5 1395.0,168.4 1398.8,166.5 1402.6,164.4 1406.5,162.1 1410.3,160.2 1414.1,158.3 1418.0,157.4 1421.8,157.3 1425.6,156.3 1429.5,155.7 1433.3,154.4 1437.1,152.9 1441.0,151.4 1444.8,150.2 1448.6,148.9 1452.5,147.4 1456.3,145.7 1460.1,144.0 1464.0,142.2 1467.8,139.9 1471.6,137.1 1475.5,134.5 1479.3,132.0 1483.1,128.8 1487.0,125.8 1490.8,122.8 1494.6,119.5 1498.5,116.5 1502.3,113.3 1506.1,110.6 1510.0,108.3 1513.8,106.0 1517.6,103.5 1521.5,100.8 1525.3,100.3 1529.1,100.3 1533.0,100.3 1536.8,100.0 1540.6,101.3 1544.5,101.6 1548.3,102.0 1552.1,102.5 1556.0,104.0 1559.8,106.7 1563.6,109.2 1567.5,111.7 1571.3,113.9 1575.1,116.9 1579.0,121.7 1582.8,126.7 1586.6,133.5 1590.5,141.5 1594.3,149.2 1598.1,154.9 1602.0,160.0 1605.8,165.4 1609.6,170.1 1613.5,175.0 1617.3,179.2 1621.2,182.0 1625.0,185.9 1628.8,190.3 1632.7,195.4 1636.5,200.2 1640.3,204.2 1644.2,209.4 1648.0,214.3 1651.8,219.4 1655.7,223.8 1659.5,227.7 1663.3,230.8 1667.2,233.2 1671.0,236.4 1674.8,240.7 1678.7,245.1 1682.5,250.1 1686.3,254.2 1690.2,258.8 1694.0,263.1 1697.8,267.7 1701.7,272.8 1705.5,277.8 1709.3,281.4 1713.2,284.9 1717.0,288.1 1720.8,290.3 1724.7,292.6 1728.5,295.1 1732.3,296.4 1736.2,297.6 1740.0,300.6 1743.8,302.5 1747.7,304.4 1751.5,304.1 1755.3,303.6 1759.2,301.9 1763.0,300.1" fill="none" stroke="#2962ff" stroke-width="1.3" stroke-linejoin="round"/><polyline points="-0.4,498.5 3.4,499.2 7.2,499.9 11.1,500.3 14.9,500.6 18.7,501.0 22.6,501.5 26.4,502.0 30.2,502.4 34.1,503.3 37.9,504.5 41.7,505.6 45.6,506.7 49.4,507.6 53.2,508.7 57.1,509.5 60.9,510.2 64.7,510.9 68.6,511.7 72.4,512.4 76.2,513.1 80.1,513.8 83.9,514.5 87.8,515.4 91.6,516.3 95.4,516.8 99.3,517.0 103.1,517.4 106.9,517.9 110.8,518.3 114.6,518.7 118.4,518.9 122.3,519.0 126.1,519.0 129.9,518.9 133.8,518.9 137.6,518.8 141.4,518.6 145.3,518.4 149.1,518.3 152.9,517.8 156.8,517.4 160.6,517.0 164.4,516.6 168.3,516.2 172.1,515.8 175.9,515.5 179.8,514.9 183.6,514.4 187.4,514.0 191.3,513.9 195.1,514.0 198.9,514.0 202.8,514.1 206.6,514.2 210.4,514.6 214.3,515.0 218.1,515.3 221.9,515.7 225.8,516.3 229.6,516.9 233.4,517.3 237.3,517.8 241.1,518.0 244.9,518.2 248.8,518.4 252.6,518.6 256.4,519.0 260.3,519.4 264.1,519.8 267.9,520.0 271.8,520.1 275.6,520.1 279.4,520.2 283.3,520.4 287.1,520.4 290.9,520.2 294.8,520.2 298.6,520.0 302.4,519.9 306.3,519.9 310.1,519.8 313.9,519.8 317.8,519.8 321.6,519.7 325.4,519.3 329.3,518.6 333.1,518.2 336.9,518.0 340.8,518.0 344.6,517.8 348.4,517.6 352.3,517.3 356.1,517.3 359.9,517.2 363.8,516.8 367.6,516.4 371.4,516.0 375.3,515.4 379.1,514.6 382.9,513.9 386.8,513.1 390.6,512.3 394.4,511.4 398.3,510.4 402.1,509.3 405.9,508.3 409.8,507.3 413.6,506.5 417.4,505.8 421.3,504.8 425.1,504.0 428.9,503.1 432.8,502.2 436.6,501.5 440.4,500.7 444.3,499.9 448.1,498.9 451.9,498.1 455.8,497.2 459.6,496.0 463.4,494.8 467.3,493.7 471.1,492.6 474.9,491.2 478.8,489.8 482.6,488.4 486.4,486.9 490.3,485.4 494.1,483.8 497.9,482.4 501.8,480.9 505.6,479.4 509.4,477.9 513.3,476.5 517.1,475.5 520.9,474.7 524.8,474.0 528.6,473.6 532.4,473.3 536.3,473.0 540.1,472.6 543.9,472.2 547.8,471.6 551.6,471.0 555.4,470.1 559.3,469.2 563.1,468.5 566.9,467.9 570.8,467.4 574.6,466.7 578.4,465.7 582.3,464.6 586.1,463.5 589.9,462.5 593.8,461.8 597.6,460.8 601.4,459.8 605.3,458.6 609.1,457.3 612.9,456.0 616.8,454.6 620.6,453.2 624.4,451.7 628.3,450.3 632.1,449.0 635.9,447.5 639.8,446.2 643.6,445.0 647.4,443.6 651.3,442.2 655.1,440.8 658.9,439.5 662.8,438.1 666.6,436.9 670.4,435.6 674.3,434.2 678.1,432.6 681.9,431.1 685.8,429.6 689.6,428.1 693.4,426.8 697.3,425.4 701.1,424.0 704.9,422.6 708.8,421.1 712.6,419.7 716.4,418.3 720.3,416.8 724.1,415.4 727.9,413.9 731.8,412.4 735.6,410.8 739.4,409.1 743.3,407.6 747.1,406.0 750.9,404.3 754.8,402.9 758.6,401.4 762.4,400.0 766.3,398.5 770.1,397.2 773.9,395.8 777.8,394.4 781.6,392.9 785.4,391.4 789.3,390.0 793.1,388.5 796.9,387.0 800.8,385.5 804.6,384.1 808.4,382.7 812.3,381.3 816.1,379.8 819.9,378.4 823.8,377.0 827.6,375.8 831.4,374.2 835.3,372.6 839.1,371.2 843.0,370.0 846.8,368.7 850.6,367.3 854.5,365.9 858.3,364.4 862.1,362.9 866.0,361.3 869.8,360.0 873.6,358.6 877.5,357.3 881.3,356.2 885.1,355.3 889.0,354.4 892.8,353.3 896.6,352.2 900.5,351.2 904.3,350.3 908.1,349.6 912.0,349.0 915.8,348.2 919.6,347.6 923.5,347.0 927.3,346.4 931.1,345.8 935.0,345.7 938.8,345.5 942.6,345.1 946.5,344.8 950.3,345.0 954.1,345.3 958.0,345.6 961.8,345.8 965.6,345.8 969.5,345.8 973.3,346.1 977.1,346.3 981.0,346.6 984.8,346.8 988.6,347.1 992.5,347.5 996.3,348.0 1000.1,348.3 1004.0,348.3 1007.8,348.2 1011.6,348.0 1015.5,347.9 1019.3,347.8 1023.1,347.4 1027.0,347.1 1030.8,346.9 1034.6,346.6 1038.5,346.0 1042.3,345.2 1046.1,344.5 1050.0,343.7 1053.8,343.0 1057.6,342.2 1061.5,341.6 1065.3,341.0 1069.1,340.3 1073.0,339.7 1076.8,339.1 1080.6,338.6 1084.5,338.3 1088.3,337.6 1092.1,336.8 1096.0,336.2 1099.8,335.5 1103.6,334.6 1107.5,333.8 1111.3,333.0 1115.1,331.9 1119.0,330.9 1122.8,330.0 1126.6,329.0 1130.5,328.1 1134.3,327.2 1138.1,326.3 1142.0,325.3 1145.8,324.3 1149.6,323.4 1153.5,322.4 1157.3,321.5 1161.1,320.6 1165.0,319.8 1168.8,318.9 1172.6,318.1 1176.5,317.4 1180.3,316.9 1184.1,316.7 1188.0,316.4 1191.8,316.0 1195.6,315.6 1199.5,315.1 1203.3,314.6 1207.1,313.9 1211.0,313.0 1214.8,312.1 1218.6,311.0 1222.5,310.1 1226.3,309.1 1230.1,308.1 1234.0,307.2 1237.8,306.3 1241.6,305.4 1245.5,304.4 1249.3,303.5 1253.1,302.5 1257.0,301.7 1260.8,300.7 1264.6,299.8 1268.5,298.9 1272.3,297.8 1276.1,296.6 1280.0,295.5 1283.8,294.1 1287.6,292.8 1291.5,291.5 1295.3,290.1 1299.1,288.8 1303.0,287.5 1306.8,286.2 1310.6,284.8 1314.5,283.3 1318.3,281.4 1322.1,279.9 1326.0,278.1 1329.8,277.0 1333.6,276.0 1337.5,275.1 1341.3,274.0 1345.1,272.9 1349.0,271.6 1352.8,270.3 1356.6,269.0 1360.5,267.6 1364.3,266.2 1368.1,265.1 1372.0,263.9 1375.8,262.7 1379.6,261.3 1383.5,260.0 1387.3,258.6 1391.1,257.2 1395.0,255.8 1398.8,254.5 1402.6,253.1 1406.5,251.6 1410.3,250.3 1414.1,248.9 1418.0,247.7 1421.8,246.8 1425.6,245.7 1429.5,244.6 1433.3,243.4 1437.1,242.1 1441.0,240.9 1444.8,239.7 1448.6,238.5 1452.5,237.2 1456.3,235.9 1460.1,234.5 1464.0,233.2 1467.8,231.7 1471.6,230.1 1475.5,228.5 1479.3,226.9 1483.1,225.2 1487.0,223.4 1490.8,221.7 1494.6,219.9 1498.5,218.1 1502.3,216.3 1506.1,214.6 1510.0,213.0 1513.8,211.4 1517.6,209.7 1521.5,207.9 1525.3,206.7 1529.1,205.7 1533.0,204.6 1536.8,203.5 1540.6,202.8 1544.5,201.9 1548.3,201.0 1552.1,200.1 1556.0,199.5 1559.8,199.3 1563.6,199.0 1567.5,198.7 1571.3,198.4 1575.1,198.3 1579.0,198.7 1582.8,199.2 1586.6,200.2 1590.5,201.6 1594.3,203.0 1598.1,203.9 1602.0,204.7 1605.8,205.6 1609.6,206.4 1613.5,207.3 1617.3,208.0 1621.2,208.5 1625.0,209.2 1628.8,210.1 1632.7,211.2 1636.5,212.2 1640.3,213.1 1644.2,214.4 1648.0,215.5 1651.8,216.8 1655.7,218.0 1659.5,219.0 1663.3,219.9 1667.2,220.6 1671.0,221.5 1674.8,222.8 1678.7,224.1 1682.5,225.5 1686.3,226.8 1690.2,228.3 1694.0,229.7 1697.8,231.2 1701.7,232.8 1705.5,234.5 1709.3,235.8 1713.2,237.2 1717.0,238.5 1720.8,239.5 1724.7,240.6 1728.5,241.8 1732.3,242.6 1736.2,243.5 1740.0,244.8 1743.8,245.8 1747.7,246.8 1751.5,247.3 1755.3,247.8 1759.2,247.9 1763.0,248.0" fill="none" stroke="#8e24aa" stroke-width="1.3" stroke-linejoin="round"/>
<defs>
<linearGradient id="gob" gradientUnits="userSpaceOnUse" x1="0" y1="656.35" x2="0" y2="699.1">
<stop offset="0" stop-color="#4caf50" stop-opacity="1"/><stop offset="1" stop-color="#4caf50" stop-opacity="0"/></linearGradient>
<linearGradient id="gos" gradientUnits="userSpaceOnUse" x1="0" y1="756.1" x2="0" y2="798.85">
<stop offset="0" stop-color="#f23645" stop-opacity="0"/><stop offset="1" stop-color="#f23645" stop-opacity="1"/></linearGradient>
<clipPath id="cob"><rect x="0" y="0" width="1843" height="699.1"/></clipPath>
<clipPath id="cos"><rect x="0" y="756.1" width="1843" height="30.899999999999977"/></clipPath>
</defs><polygon points="-0.4,699.1 -0.4,751.4 3.4,752.9 7.2,750.4 11.1,740.2 14.9,735.6 18.7,741.3 22.6,741.9 26.4,739.8 30.2,738.2 34.1,751.4 37.9,755.7 41.7,751.6 45.6,753.1 49.4,747.2 53.2,749.1 57.1,741.1 60.9,734.4 64.7,737.0 68.6,739.9 72.4,735.4 76.2,737.6 80.1,733.6 83.9,735.4 87.8,741.6 91.6,743.1 95.4,725.9 99.3,718.5 103.1,726.0 106.9,725.9 110.8,724.5 114.6,725.5 118.4,719.9 122.3,715.8 126.1,710.6 129.9,712.6 133.8,711.2 137.6,711.3 141.4,706.8 145.3,707.7 149.1,710.1 152.9,700.5 156.8,704.3 160.6,704.3 164.4,704.3 168.3,700.6 172.1,711.2 175.9,710.5 179.8,702.8 183.6,702.3 187.4,714.9 191.3,724.3 195.1,737.4 198.9,729.4 202.8,735.2 206.6,732.3 210.4,743.0 214.3,745.4 218.1,736.5 221.9,742.3 225.8,745.4 229.6,745.6 233.4,738.7 237.3,742.8 241.1,728.4 244.9,729.7 248.8,729.1 252.6,731.4 256.4,736.1 260.3,738.6 264.1,733.6 267.9,731.1 271.8,720.7 275.6,720.0 279.4,724.8 283.3,729.6 287.1,720.6 290.9,716.1 294.8,719.6 298.6,715.4 302.4,720.0 306.3,721.1 310.1,719.6 313.9,724.0 317.8,725.3 321.6,722.1 325.4,706.2 329.3,700.3 333.1,710.1 336.9,724.2 340.8,727.0 344.6,722.9 348.4,721.5 352.3,720.6 356.1,728.3 359.9,726.1 363.8,717.5 367.6,715.2 371.4,713.8 375.3,706.2 379.1,701.3 382.9,709.3 386.8,705.5 390.6,706.0 394.4,701.4 398.3,698.8 402.1,696.2 405.9,698.7 409.8,706.3 413.6,710.3 417.4,716.2 421.3,708.4 425.1,712.6 428.9,712.3 432.8,709.3 436.6,720.6 440.4,717.1 444.3,715.5 448.1,711.3 451.9,713.4 455.8,711.5 459.6,701.7 463.4,701.1 467.3,707.8 471.1,704.5 474.9,697.8 478.8,695.3 482.6,697.3 486.4,694.2 490.3,692.5 494.1,691.6 497.9,698.3 501.8,695.8 505.6,699.6 509.4,698.0 513.3,706.8 517.1,728.1 520.9,734.2 524.8,741.3 528.6,751.4 532.4,753.8 536.3,747.3 540.1,746.7 543.9,745.3 547.8,737.5 551.6,733.8 555.4,719.6 559.3,722.6 563.1,727.4 566.9,733.1 570.8,738.3 574.6,724.6 578.4,717.5 582.3,712.0 586.1,712.3 589.9,718.8 593.8,725.4 597.6,719.9 601.4,714.9 605.3,712.7 609.1,707.5 612.9,706.4 616.8,703.6 620.6,703.3 624.4,699.5 628.3,705.2 632.1,710.1 635.9,704.9 639.8,709.0 643.6,718.8 647.4,711.9 651.3,709.1 655.1,708.4 658.9,715.0 662.8,712.4 666.6,719.4 670.4,714.3 674.3,713.0 678.1,704.9 681.9,705.9 685.8,710.7 689.6,707.1 693.4,719.6 697.3,715.8 701.1,713.5 704.9,713.3 708.8,710.5 712.6,713.5 716.4,711.5 720.3,707.7 724.1,717.9 727.9,711.3 731.8,707.6 735.6,706.6 739.4,702.6 743.3,707.7 747.1,707.1 750.9,703.4 754.8,714.9 758.6,713.5 762.4,721.0 766.3,714.4 770.1,722.8 773.9,721.0 777.8,716.6 781.6,711.7 785.4,714.9 789.3,714.9 793.1,712.1 796.9,711.3 800.8,713.7 804.6,713.7 808.4,715.4 812.3,712.3 816.1,709.2 819.9,707.0 823.8,722.5 827.6,729.0 831.4,703.9 835.3,713.0 839.1,719.2 843.0,729.3 846.8,722.5 850.6,720.7 854.5,715.6 858.3,712.8 862.1,711.8 866.0,710.0 869.8,724.9 873.6,717.1 877.5,723.0 881.3,733.1 885.1,741.0 889.0,741.0 892.8,730.4 896.6,730.4 900.5,731.7 904.3,737.2 908.1,745.3 912.0,747.0 915.8,737.3 919.6,744.3 923.5,743.2 927.3,743.5 931.1,742.0 935.0,759.6 938.8,750.9 942.6,740.5 946.5,744.4 950.3,755.5 954.1,759.0 958.0,756.0 961.8,750.8 965.6,742.5 969.5,744.2 973.3,750.3 977.1,747.7 981.0,748.3 984.8,747.4 988.6,750.4 992.5,752.7 996.3,754.7 1000.1,744.0 1004.0,733.7 1007.8,724.5 1011.6,724.9 1015.5,727.8 1019.3,725.4 1023.1,716.8 1027.0,721.3 1030.8,724.2 1034.6,718.3 1038.5,709.8 1042.3,705.3 1046.1,705.3 1050.0,704.8 1053.8,706.7 1057.6,705.0 1061.5,714.1 1065.3,712.7 1069.1,709.6 1073.0,716.6 1076.8,715.6 1080.6,723.4 1084.5,728.1 1088.3,713.0 1092.1,711.0 1096.0,717.9 1099.8,716.1 1103.6,709.1 1107.5,709.8 1111.3,708.9 1115.1,700.4 1119.0,703.4 1122.8,710.7 1126.6,708.6 1130.5,710.1 1134.3,711.6 1138.1,709.1 1142.0,707.4 1145.8,708.2 1149.6,706.1 1153.5,709.9 1157.3,707.6 1161.1,718.6 1165.0,717.0 1168.8,712.3 1172.6,720.1 1176.5,728.7 1180.3,740.9 1184.1,748.8 1188.0,749.5 1191.8,739.7 1195.6,738.5 1199.5,732.1 1203.3,725.5 1207.1,723.7 1211.0,709.7 1214.8,707.1 1218.6,704.9 1222.5,707.7 1226.3,707.1 1230.1,706.6 1234.0,710.0 1237.8,709.1 1241.6,710.6 1245.5,707.1 1249.3,709.8 1253.1,707.5 1257.0,714.3 1260.8,711.3 1264.6,709.4 1268.5,711.2 1272.3,697.2 1276.1,696.4 1280.0,697.2 1283.8,689.9 1287.6,687.3 1291.5,694.4 1295.3,692.3 1299.1,693.3 1303.0,691.9 1306.8,693.4 1310.6,688.9 1314.5,687.2 1318.3,675.9 1322.1,704.3 1326.0,696.8 1329.8,723.7 1333.6,729.8 1337.5,733.6 1341.3,727.4 1345.1,722.4 1349.0,718.3 1352.8,719.0 1356.6,716.8 1360.5,714.2 1364.3,713.2 1368.1,725.6 1372.0,721.6 1375.8,720.3 1379.6,716.3 1383.5,717.8 1387.3,713.3 1391.1,712.6 1395.0,712.2 1398.8,714.1 1402.6,711.6 1406.5,707.6 1410.3,714.2 1414.1,713.0 1418.0,726.6 1421.8,736.8 1425.6,725.5 1429.5,729.5 1433.3,721.2 1437.1,718.9 1441.0,718.0 1444.8,722.3 1448.6,720.2 1452.5,717.1 1456.3,714.3 1460.1,713.2 1464.0,711.4 1467.8,705.1 1471.6,699.8 1475.5,702.4 1479.3,701.8 1483.1,695.2 1487.0,695.8 1490.8,695.2 1494.6,692.0 1498.5,692.9 1502.3,691.2 1506.1,698.8 1510.0,706.2 1513.8,705.9 1517.6,701.7 1521.5,698.4 1525.3,733.8 1529.1,740.2 1533.0,739.1 1536.8,735.7 1540.6,750.2 1544.5,738.6 1548.3,738.6 1552.1,740.9 1556.0,749.4 1559.8,757.3 1563.6,756.5 1567.5,757.3 1571.3,753.8 1575.1,759.6 1579.0,768.7 1582.8,770.3 1586.6,776.3 1590.5,779.7 1594.3,778.0 1598.1,759.6 1602.0,756.0 1605.8,757.8 1609.6,753.4 1613.5,755.0 1617.3,750.6 1621.2,737.6 1625.0,744.9 1628.8,748.4 1632.7,752.8 1636.5,752.6 1640.3,745.5 1644.2,752.7 1648.0,751.1 1651.8,753.2 1655.7,748.5 1659.5,745.6 1663.3,737.6 1667.2,733.1 1671.0,740.0 1674.8,747.1 1678.7,748.1 1682.5,752.7 1686.3,746.0 1690.2,749.1 1694.0,748.6 1697.8,751.5 1701.7,755.2 1705.5,755.8 1709.3,741.4 1713.2,742.5 1717.0,739.4 1720.8,730.9 1724.7,732.9 1728.5,735.1 1732.3,724.6 1736.2,724.3 1740.0,739.6 1743.8,730.4 1747.7,730.9 1751.5,716.0 1755.3,714.0 1759.2,707.3 1763.0,706.1 1763.0,699.1" fill="url(#gob)" clip-path="url(#cob)"/><polygon points="-0.4,756.1 -0.4,751.4 3.4,752.9 7.2,750.4 11.1,740.2 14.9,735.6 18.7,741.3 22.6,741.9 26.4,739.8 30.2,738.2 34.1,751.4 37.9,755.7 41.7,751.6 45.6,753.1 49.4,747.2 53.2,749.1 57.1,741.1 60.9,734.4 64.7,737.0 68.6,739.9 72.4,735.4 76.2,737.6 80.1,733.6 83.9,735.4 87.8,741.6 91.6,743.1 95.4,725.9 99.3,718.5 103.1,726.0 106.9,725.9 110.8,724.5 114.6,725.5 118.4,719.9 122.3,715.8 126.1,710.6 129.9,712.6 133.8,711.2 137.6,711.3 141.4,706.8 145.3,707.7 149.1,710.1 152.9,700.5 156.8,704.3 160.6,704.3 164.4,704.3 168.3,700.6 172.1,711.2 175.9,710.5 179.8,702.8 183.6,702.3 187.4,714.9 191.3,724.3 195.1,737.4 198.9,729.4 202.8,735.2 206.6,732.3 210.4,743.0 214.3,745.4 218.1,736.5 221.9,742.3 225.8,745.4 229.6,745.6 233.4,738.7 237.3,742.8 241.1,728.4 244.9,729.7 248.8,729.1 252.6,731.4 256.4,736.1 260.3,738.6 264.1,733.6 267.9,731.1 271.8,720.7 275.6,720.0 279.4,724.8 283.3,729.6 287.1,720.6 290.9,716.1 294.8,719.6 298.6,715.4 302.4,720.0 306.3,721.1 310.1,719.6 313.9,724.0 317.8,725.3 321.6,722.1 325.4,706.2 329.3,700.3 333.1,710.1 336.9,724.2 340.8,727.0 344.6,722.9 348.4,721.5 352.3,720.6 356.1,728.3 359.9,726.1 363.8,717.5 367.6,715.2 371.4,713.8 375.3,706.2 379.1,701.3 382.9,709.3 386.8,705.5 390.6,706.0 394.4,701.4 398.3,698.8 402.1,696.2 405.9,698.7 409.8,706.3 413.6,710.3 417.4,716.2 421.3,708.4 425.1,712.6 428.9,712.3 432.8,709.3 436.6,720.6 440.4,717.1 444.3,715.5 448.1,711.3 451.9,713.4 455.8,711.5 459.6,701.7 463.4,701.1 467.3,707.8 471.1,704.5 474.9,697.8 478.8,695.3 482.6,697.3 486.4,694.2 490.3,692.5 494.1,691.6 497.9,698.3 501.8,695.8 505.6,699.6 509.4,698.0 513.3,706.8 517.1,728.1 520.9,734.2 524.8,741.3 528.6,751.4 532.4,753.8 536.3,747.3 540.1,746.7 543.9,745.3 547.8,737.5 551.6,733.8 555.4,719.6 559.3,722.6 563.1,727.4 566.9,733.1 570.8,738.3 574.6,724.6 578.4,717.5 582.3,712.0 586.1,712.3 589.9,718.8 593.8,725.4 597.6,719.9 601.4,714.9 605.3,712.7 609.1,707.5 612.9,706.4 616.8,703.6 620.6,703.3 624.4,699.5 628.3,705.2 632.1,710.1 635.9,704.9 639.8,709.0 643.6,718.8 647.4,711.9 651.3,709.1 655.1,708.4 658.9,715.0 662.8,712.4 666.6,719.4 670.4,714.3 674.3,713.0 678.1,704.9 681.9,705.9 685.8,710.7 689.6,707.1 693.4,719.6 697.3,715.8 701.1,713.5 704.9,713.3 708.8,710.5 712.6,713.5 716.4,711.5 720.3,707.7 724.1,717.9 727.9,711.3 731.8,707.6 735.6,706.6 739.4,702.6 743.3,707.7 747.1,707.1 750.9,703.4 754.8,714.9 758.6,713.5 762.4,721.0 766.3,714.4 770.1,722.8 773.9,721.0 777.8,716.6 781.6,711.7 785.4,714.9 789.3,714.9 793.1,712.1 796.9,711.3 800.8,713.7 804.6,713.7 808.4,715.4 812.3,712.3 816.1,709.2 819.9,707.0 823.8,722.5 827.6,729.0 831.4,703.9 835.3,713.0 839.1,719.2 843.0,729.3 846.8,722.5 850.6,720.7 854.5,715.6 858.3,712.8 862.1,711.8 866.0,710.0 869.8,724.9 873.6,717.1 877.5,723.0 881.3,733.1 885.1,741.0 889.0,741.0 892.8,730.4 896.6,730.4 900.5,731.7 904.3,737.2 908.1,745.3 912.0,747.0 915.8,737.3 919.6,744.3 923.5,743.2 927.3,743.5 931.1,742.0 935.0,759.6 938.8,750.9 942.6,740.5 946.5,744.4 950.3,755.5 954.1,759.0 958.0,756.0 961.8,750.8 965.6,742.5 969.5,744.2 973.3,750.3 977.1,747.7 981.0,748.3 984.8,747.4 988.6,750.4 992.5,752.7 996.3,754.7 1000.1,744.0 1004.0,733.7 1007.8,724.5 1011.6,724.9 1015.5,727.8 1019.3,725.4 1023.1,716.8 1027.0,721.3 1030.8,724.2 1034.6,718.3 1038.5,709.8 1042.3,705.3 1046.1,705.3 1050.0,704.8 1053.8,706.7 1057.6,705.0 1061.5,714.1 1065.3,712.7 1069.1,709.6 1073.0,716.6 1076.8,715.6 1080.6,723.4 1084.5,728.1 1088.3,713.0 1092.1,711.0 1096.0,717.9 1099.8,716.1 1103.6,709.1 1107.5,709.8 1111.3,708.9 1115.1,700.4 1119.0,703.4 1122.8,710.7 1126.6,708.6 1130.5,710.1 1134.3,711.6 1138.1,709.1 1142.0,707.4 1145.8,708.2 1149.6,706.1 1153.5,709.9 1157.3,707.6 1161.1,718.6 1165.0,717.0 1168.8,712.3 1172.6,720.1 1176.5,728.7 1180.3,740.9 1184.1,748.8 1188.0,749.5 1191.8,739.7 1195.6,738.5 1199.5,732.1 1203.3,725.5 1207.1,723.7 1211.0,709.7 1214.8,707.1 1218.6,704.9 1222.5,707.7 1226.3,707.1 1230.1,706.6 1234.0,710.0 1237.8,709.1 1241.6,710.6 1245.5,707.1 1249.3,709.8 1253.1,707.5 1257.0,714.3 1260.8,711.3 1264.6,709.4 1268.5,711.2 1272.3,697.2 1276.1,696.4 1280.0,697.2 1283.8,689.9 1287.6,687.3 1291.5,694.4 1295.3,692.3 1299.1,693.3 1303.0,691.9 1306.8,693.4 1310.6,688.9 1314.5,687.2 1318.3,675.9 1322.1,704.3 1326.0,696.8 1329.8,723.7 1333.6,729.8 1337.5,733.6 1341.3,727.4 1345.1,722.4 1349.0,718.3 1352.8,719.0 1356.6,716.8 1360.5,714.2 1364.3,713.2 1368.1,725.6 1372.0,721.6 1375.8,720.3 1379.6,716.3 1383.5,717.8 1387.3,713.3 1391.1,712.6 1395.0,712.2 1398.8,714.1 1402.6,711.6 1406.5,707.6 1410.3,714.2 1414.1,713.0 1418.0,726.6 1421.8,736.8 1425.6,725.5 1429.5,729.5 1433.3,721.2 1437.1,718.9 1441.0,718.0 1444.8,722.3 1448.6,720.2 1452.5,717.1 1456.3,714.3 1460.1,713.2 1464.0,711.4 1467.8,705.1 1471.6,699.8 1475.5,702.4 1479.3,701.8 1483.1,695.2 1487.0,695.8 1490.8,695.2 1494.6,692.0 1498.5,692.9 1502.3,691.2 1506.1,698.8 1510.0,706.2 1513.8,705.9 1517.6,701.7 1521.5,698.4 1525.3,733.8 1529.1,740.2 1533.0,739.1 1536.8,735.7 1540.6,750.2 1544.5,738.6 1548.3,738.6 1552.1,740.9 1556.0,749.4 1559.8,757.3 1563.6,756.5 1567.5,757.3 1571.3,753.8 1575.1,759.6 1579.0,768.7 1582.8,770.3 1586.6,776.3 1590.5,779.7 1594.3,778.0 1598.1,759.6 1602.0,756.0 1605.8,757.8 1609.6,753.4 1613.5,755.0 1617.3,750.6 1621.2,737.6 1625.0,744.9 1628.8,748.4 1632.7,752.8 1636.5,752.6 1640.3,745.5 1644.2,752.7 1648.0,751.1 1651.8,753.2 1655.7,748.5 1659.5,745.6 1663.3,737.6 1667.2,733.1 1671.0,740.0 1674.8,747.1 1678.7,748.1 1682.5,752.7 1686.3,746.0 1690.2,749.1 1694.0,748.6 1697.8,751.5 1701.7,755.2 1705.5,755.8 1709.3,741.4 1713.2,742.5 1717.0,739.4 1720.8,730.9 1724.7,732.9 1728.5,735.1 1732.3,724.6 1736.2,724.3 1740.0,739.6 1743.8,730.4 1747.7,730.9 1751.5,716.0 1755.3,714.0 1759.2,707.3 1763.0,706.1 1763.0,756.1" fill="url(#gos)" clip-path="url(#cos)"/><polyline points="-0.4,751.4 3.4,752.9 7.2,750.4 11.1,740.2 14.9,735.6 18.7,741.3 22.6,741.9 26.4,739.8 30.2,738.2 34.1,751.4 37.9,755.7 41.7,751.6 45.6,753.1 49.4,747.2 53.2,749.1 57.1,741.1 60.9,734.4 64.7,737.0 68.6,739.9 72.4,735.4 76.2,737.6 80.1,733.6 83.9,735.4 87.8,741.6 91.6,743.1 95.4,725.9 99.3,718.5 103.1,726.0 106.9,725.9 110.8,724.5 114.6,725.5 118.4,719.9 122.3,715.8 126.1,710.6 129.9,712.6 133.8,711.2 137.6,711.3 141.4,706.8 145.3,707.7 149.1,710.1 152.9,700.5 156.8,704.3 160.6,704.3 164.4,704.3 168.3,700.6 172.1,711.2 175.9,710.5 179.8,702.8 183.6,702.3 187.4,714.9 191.3,724.3 195.1,737.4 198.9,729.4 202.8,735.2 206.6,732.3 210.4,743.0 214.3,745.4 218.1,736.5 221.9,742.3 225.8,745.4 229.6,745.6 233.4,738.7 237.3,742.8 241.1,728.4 244.9,729.7 248.8,729.1 252.6,731.4 256.4,736.1 260.3,738.6 264.1,733.6 267.9,731.1 271.8,720.7 275.6,720.0 279.4,724.8 283.3,729.6 287.1,720.6 290.9,716.1 294.8,719.6 298.6,715.4 302.4,720.0 306.3,721.1 310.1,719.6 313.9,724.0 317.8,725.3 321.6,722.1 325.4,706.2 329.3,700.3 333.1,710.1 336.9,724.2 340.8,727.0 344.6,722.9 348.4,721.5 352.3,720.6 356.1,728.3 359.9,726.1 363.8,717.5 367.6,715.2 371.4,713.8 375.3,706.2 379.1,701.3 382.9,709.3 386.8,705.5 390.6,706.0 394.4,701.4 398.3,698.8 402.1,696.2 405.9,698.7 409.8,706.3 413.6,710.3 417.4,716.2 421.3,708.4 425.1,712.6 428.9,712.3 432.8,709.3 436.6,720.6 440.4,717.1 444.3,715.5 448.1,711.3 451.9,713.4 455.8,711.5 459.6,701.7 463.4,701.1 467.3,707.8 471.1,704.5 474.9,697.8 478.8,695.3 482.6,697.3 486.4,694.2 490.3,692.5 494.1,691.6 497.9,698.3 501.8,695.8 505.6,699.6 509.4,698.0 513.3,706.8 517.1,728.1 520.9,734.2 524.8,741.3 528.6,751.4 532.4,753.8 536.3,747.3 540.1,746.7 543.9,745.3 547.8,737.5 551.6,733.8 555.4,719.6 559.3,722.6 563.1,727.4 566.9,733.1 570.8,738.3 574.6,724.6 578.4,717.5 582.3,712.0 586.1,712.3 589.9,718.8 593.8,725.4 597.6,719.9 601.4,714.9 605.3,712.7 609.1,707.5 612.9,706.4 616.8,703.6 620.6,703.3 624.4,699.5 628.3,705.2 632.1,710.1 635.9,704.9 639.8,709.0 643.6,718.8 647.4,711.9 651.3,709.1 655.1,708.4 658.9,715.0 662.8,712.4 666.6,719.4 670.4,714.3 674.3,713.0 678.1,704.9 681.9,705.9 685.8,710.7 689.6,707.1 693.4,719.6 697.3,715.8 701.1,713.5 704.9,713.3 708.8,710.5 712.6,713.5 716.4,711.5 720.3,707.7 724.1,717.9 727.9,711.3 731.8,707.6 735.6,706.6 739.4,702.6 743.3,707.7 747.1,707.1 750.9,703.4 754.8,714.9 758.6,713.5 762.4,721.0 766.3,714.4 770.1,722.8 773.9,721.0 777.8,716.6 781.6,711.7 785.4,714.9 789.3,714.9 793.1,712.1 796.9,711.3 800.8,713.7 804.6,713.7 808.4,715.4 812.3,712.3 816.1,709.2 819.9,707.0 823.8,722.5 827.6,729.0 831.4,703.9 835.3,713.0 839.1,719.2 843.0,729.3 846.8,722.5 850.6,720.7 854.5,715.6 858.3,712.8 862.1,711.8 866.0,710.0 869.8,724.9 873.6,717.1 877.5,723.0 881.3,733.1 885.1,741.0 889.0,741.0 892.8,730.4 896.6,730.4 900.5,731.7 904.3,737.2 908.1,745.3 912.0,747.0 915.8,737.3 919.6,744.3 923.5,743.2 927.3,743.5 931.1,742.0 935.0,759.6 938.8,750.9 942.6,740.5 946.5,744.4 950.3,755.5 954.1,759.0 958.0,756.0 961.8,750.8 965.6,742.5 969.5,744.2 973.3,750.3 977.1,747.7 981.0,748.3 984.8,747.4 988.6,750.4 992.5,752.7 996.3,754.7 1000.1,744.0 1004.0,733.7 1007.8,724.5 1011.6,724.9 1015.5,727.8 1019.3,725.4 1023.1,716.8 1027.0,721.3 1030.8,724.2 1034.6,718.3 1038.5,709.8 1042.3,705.3 1046.1,705.3 1050.0,704.8 1053.8,706.7 1057.6,705.0 1061.5,714.1 1065.3,712.7 1069.1,709.6 1073.0,716.6 1076.8,715.6 1080.6,723.4 1084.5,728.1 1088.3,713.0 1092.1,711.0 1096.0,717.9 1099.8,716.1 1103.6,709.1 1107.5,709.8 1111.3,708.9 1115.1,700.4 1119.0,703.4 1122.8,710.7 1126.6,708.6 1130.5,710.1 1134.3,711.6 1138.1,709.1 1142.0,707.4 1145.8,708.2 1149.6,706.1 1153.5,709.9 1157.3,707.6 1161.1,718.6 1165.0,717.0 1168.8,712.3 1172.6,720.1 1176.5,728.7 1180.3,740.9 1184.1,748.8 1188.0,749.5 1191.8,739.7 1195.6,738.5 1199.5,732.1 1203.3,725.5 1207.1,723.7 1211.0,709.7 1214.8,707.1 1218.6,704.9 1222.5,707.7 1226.3,707.1 1230.1,706.6 1234.0,710.0 1237.8,709.1 1241.6,710.6 1245.5,707.1 1249.3,709.8 1253.1,707.5 1257.0,714.3 1260.8,711.3 1264.6,709.4 1268.5,711.2 1272.3,697.2 1276.1,696.4 1280.0,697.2 1283.8,689.9 1287.6,687.3 1291.5,694.4 1295.3,692.3 1299.1,693.3 1303.0,691.9 1306.8,693.4 1310.6,688.9 1314.5,687.2 1318.3,675.9 1322.1,704.3 1326.0,696.8 1329.8,723.7 1333.6,729.8 1337.5,733.6 1341.3,727.4 1345.1,722.4 1349.0,718.3 1352.8,719.0 1356.6,716.8 1360.5,714.2 1364.3,713.2 1368.1,725.6 1372.0,721.6 1375.8,720.3 1379.6,716.3 1383.5,717.8 1387.3,713.3 1391.1,712.6 1395.0,712.2 1398.8,714.1 1402.6,711.6 1406.5,707.6 1410.3,714.2 1414.1,713.0 1418.0,726.6 1421.8,736.8 1425.6,725.5 1429.5,729.5 1433.3,721.2 1437.1,718.9 1441.0,718.0 1444.8,722.3 1448.6,720.2 1452.5,717.1 1456.3,714.3 1460.1,713.2 1464.0,711.4 1467.8,705.1 1471.6,699.8 1475.5,702.4 1479.3,701.8 1483.1,695.2 1487.0,695.8 1490.8,695.2 1494.6,692.0 1498.5,692.9 1502.3,691.2 1506.1,698.8 1510.0,706.2 1513.8,705.9 1517.6,701.7 1521.5,698.4 1525.3,733.8 1529.1,740.2 1533.0,739.1 1536.8,735.7 1540.6,750.2 1544.5,738.6 1548.3,738.6 1552.1,740.9 1556.0,749.4 1559.8,757.3 1563.6,756.5 1567.5,757.3 1571.3,753.8 1575.1,759.6 1579.0,768.7 1582.8,770.3 1586.6,776.3 1590.5,779.7 1594.3,778.0 1598.1,759.6 1602.0,756.0 1605.8,757.8 1609.6,753.4 1613.5,755.0 1617.3,750.6 1621.2,737.6 1625.0,744.9 1628.8,748.4 1632.7,752.8 1636.5,752.6 1640.3,745.5 1644.2,752.7 1648.0,751.1 1651.8,753.2 1655.7,748.5 1659.5,745.6 1663.3,737.6 1667.2,733.1 1671.0,740.0 1674.8,747.1 1678.7,748.1 1682.5,752.7 1686.3,746.0 1690.2,749.1 1694.0,748.6 1697.8,751.5 1701.7,755.2 1705.5,755.8 1709.3,741.4 1713.2,742.5 1717.0,739.4 1720.8,730.9 1724.7,732.9 1728.5,735.1 1732.3,724.6 1736.2,724.3 1740.0,739.6 1743.8,730.4 1747.7,730.9 1751.5,716.0 1755.3,714.0 1759.2,707.3 1763.0,706.1" fill="none" stroke="#7e57c2" stroke-width="1.3" stroke-linejoin="round"/>
<circle cx="26.8" cy="13" r="6.6" fill="#eef0f5"/>
<circle cx="26.8" cy="12.6" r="3.3" fill="#f7525f"/>
<circle cx="18.9" cy="21" r="8.3" fill="#fff"/>
<clipPath id="f1"><circle cx="18.9" cy="21" r="7.2"/></clipPath><g clip-path="url(#f1)"><rect x="11.7" y="13.8" width="14.4" height="14.4" fill="#fff"/><rect x="11.7" y="14.52" width="14.4" height="2.77" fill="#f0454f"/><rect x="11.7" y="20.06" width="14.4" height="2.77" fill="#f0454f"/><rect x="11.7" y="25.60" width="14.4" height="2.77" fill="#f0454f"/><rect x="11.7" y="13.8" width="8.64" height="8.64" fill="#1f7fe6"/><circle cx="14.58" cy="16.68" r="0.50" fill="#fff"/><circle cx="16.74" cy="16.68" r="0.50" fill="#fff"/><circle cx="18.90" cy="16.68" r="0.50" fill="#fff"/><circle cx="14.58" cy="18.70" r="0.50" fill="#fff"/><circle cx="16.74" cy="18.70" r="0.50" fill="#fff"/><circle cx="18.90" cy="18.70" r="0.50" fill="#fff"/><circle cx="14.58" cy="20.71" r="0.50" fill="#fff"/><circle cx="16.74" cy="20.71" r="0.50" fill="#fff"/><circle cx="18.90" cy="20.71" r="0.50" fill="#fff"/></g>
<text x="38.8" y="24.7" font-size="19.8" fill="#434343" text-anchor="start" font-weight="normal" textLength="338.5" lengthAdjust="spacingAndGlyphs" >U.S. Dollar / Japanese Yen · 1D · FXCM</text>
<circle cx="407.1" cy="16.9" r="11.5" fill="#dff1ee"/>
<circle cx="407.1" cy="16.9" r="5.2" fill="#089981"/>
<text x="438.6" y="22.9" font-size="15" fill="#555" text-anchor="start" font-weight="normal" textLength="10.4" lengthAdjust="spacingAndGlyphs" >O</text>
<text x="450.8" y="22.9" font-size="15" fill="#4caf7f" text-anchor="start" font-weight="normal" textLength="56.2" lengthAdjust="spacingAndGlyphs" >148.706</text>
<text x="516" y="22.9" font-size="15" fill="#555" text-anchor="start" font-weight="normal" textLength="9.3" lengthAdjust="spacingAndGlyphs" >H</text>
<text x="528" y="22.9" font-size="15" fill="#4caf7f" text-anchor="start" font-weight="normal" textLength="56" lengthAdjust="spacingAndGlyphs" >149.124</text>
<text x="592.8" y="22.9" font-size="15" fill="#555" text-anchor="start" font-weight="normal" textLength="8" lengthAdjust="spacingAndGlyphs" >L</text>
<text x="602" y="22.9" font-size="15" fill="#4caf7f" text-anchor="start" font-weight="normal" textLength="56" lengthAdjust="spacingAndGlyphs" >148.656</text>
<text x="666" y="22.9" font-size="15" fill="#555" text-anchor="start" font-weight="normal" textLength="9.6" lengthAdjust="spacingAndGlyphs" >C</text>
<text x="677.7" y="22.9" font-size="15" fill="#4caf7f" text-anchor="start" font-weight="normal" textLength="55.2" lengthAdjust="spacingAndGlyphs" >149.012</text>
<text x="742" y="22.9" font-size="15" fill="#4caf7f" text-anchor="start" font-weight="normal" textLength="47.4" lengthAdjust="spacingAndGlyphs" >+0.356</text>
<text x="795.9" y="22.9" font-size="15" fill="#4caf7f" text-anchor="start" font-weight="normal" textLength="60.1" lengthAdjust="spacingAndGlyphs" >(+0.24%)</text>
<text x="11.2" y="52.9" font-size="15.2" fill="#555" text-anchor="start" font-weight="normal" textLength="29.5" lengthAdjust="spacingAndGlyphs" >EMA</text>
<text x="50.6" y="52.9" font-size="15.2" fill="#2962ff" text-anchor="start" font-weight="normal" textLength="56.6" lengthAdjust="spacingAndGlyphs" >146.403</text>
<text x="11.2" y="83" font-size="15.2" fill="#555" text-anchor="start" font-weight="normal" textLength="29.5" lengthAdjust="spacingAndGlyphs" >EMA</text>
<text x="50.6" y="83" font-size="15.2" fill="#8e24aa" text-anchor="start" font-weight="normal" textLength="56" lengthAdjust="spacingAndGlyphs" >149.411</text>
<rect x="11.5" y="95.5" width="35" height="24" rx="3" fill="#fff" stroke="#e0e3eb" stroke-width="1"/>
<polyline points="23.5,110.5 28.8,105.3 34,110.5" fill="none" stroke="#131722" stroke-width="1.6"/>
<rect x="4" y="676" width="122" height="27" fill="#fff" fill-opacity="0.5"/>
<text x="11.7" y="693.4" font-size="14.5" fill="#555" text-anchor="start" font-weight="normal" textLength="20.2" lengthAdjust="spacingAndGlyphs" >RSI</text>
<text x="43.3" y="693.4" font-size="14.5" fill="#7e57c2" text-anchor="start" font-weight="normal" textLength="37.7" lengthAdjust="spacingAndGlyphs" >65.41</text>
<text x="90.7" y="693.4" font-size="14.5" fill="#333" text-anchor="start" font-weight="normal" textLength="8.2" lengthAdjust="spacingAndGlyphs" >Ø</text>
<text x="108.5" y="693.4" font-size="14.5" fill="#333" text-anchor="start" font-weight="normal" textLength="9" lengthAdjust="spacingAndGlyphs" >Ø</text>
<g stroke="#fff" stroke-width="3" stroke-linejoin="round" paint-order="stroke">
<path d="M14.8,750.4 H29.8 V769.2 H22.3 V757.9 H14.8 Z" fill="#131722"/>
<circle cx="36.3" cy="754.2" r="3.8" fill="#131722"/>
<path d="M44.2,750.4 H52.2 L44.6,769.2 H36.6 Z" fill="#131722"/>
</g>
<circle cx="1763.5" cy="650.5" r="12.3" fill="#fff" stroke="#9c27b0" stroke-width="1.6"/>
<circle cx="1779" cy="650.5" r="12.3" fill="#fff" stroke="#f23645" stroke-width="1.6"/>
<circle cx="1775" cy="650.5" r="12.3" fill="#fff" stroke="#f23645" stroke-width="1.6"/>
<circle cx="1770.5" cy="650.5" r="12.3" fill="#fff" stroke="#f23645" stroke-width="1.6"/>
<circle cx="1770.5" cy="650.5" r="10.6" fill="#fff"/>
<clipPath id="f2"><circle cx="1770.5" cy="650.6" r="9.6"/></clipPath><g clip-path="url(#f2)"><rect x="1760.9" y="641.0" width="19.2" height="19.2" fill="#fff"/><rect x="1760.9" y="641.96" width="19.2" height="3.69" fill="#f0454f"/><rect x="1760.9" y="649.34" width="19.2" height="3.69" fill="#f0454f"/><rect x="1760.9" y="656.73" width="19.2" height="3.69" fill="#f0454f"/><rect x="1760.9" y="641.0" width="11.52" height="11.52" fill="#1f7fe6"/><circle cx="1764.74" cy="644.84" r="0.67" fill="#fff"/><circle cx="1767.62" cy="644.84" r="0.67" fill="#fff"/><circle cx="1770.50" cy="644.84" r="0.67" fill="#fff"/><circle cx="1764.74" cy="647.53" r="0.67" fill="#fff"/><circle cx="1767.62" cy="647.53" r="0.67" fill="#fff"/><circle cx="1770.50" cy="647.53" r="0.67" fill="#fff"/><circle cx="1764.74" cy="650.22" r="0.67" fill="#fff"/><circle cx="1767.62" cy="650.22" r="0.67" fill="#fff"/><circle cx="1770.50" cy="650.22" r="0.67" fill="#fff"/></g>
<rect x="0" y="667" width="1920" height="1" fill="#e0e3eb"/>
<rect x="0" y="787" width="1843" height="1" fill="#4a4a4a"/>
<rect x="1843" y="0" width="1" height="822" fill="#4a4a4a"/>
<rect x="0" y="822" width="1920" height="1" fill="#e0e3eb"/>
<rect x="0" y="871" width="1920" height="2" fill="#e0e3eb"/>
<text x="1878.5" y="68.6" font-size="13" fill="#5d5d5d" text-anchor="middle" font-weight="normal" textLength="47" lengthAdjust="spacingAndGlyphs" >160.000</text>
<text x="1878.5" y="112.6" font-size="13" fill="#5d5d5d" text-anchor="middle" font-weight="normal" textLength="47" lengthAdjust="spacingAndGlyphs" >157.500</text>
<text x="1878.5" y="155.6" font-size="13" fill="#5d5d5d" text-anchor="middle" font-weight="normal" textLength="47" lengthAdjust="spacingAndGlyphs" >155.000</text>
<text x="1878.5" y="198.6" font-size="13" fill="#5d5d5d" text-anchor="middle" font-weight="normal" textLength="47" lengthAdjust="spacingAndGlyphs" >152.500</text>
<text x="1878.5" y="242.6" font-size="13" fill="#5d5d5d" text-anchor="middle" font-weight="normal" textLength="47" lengthAdjust="spacingAndGlyphs" >150.000</text>
<text x="1878.5" y="285.6" font-size="13" fill="#5d5d5d" text-anchor="middle" font-weight="normal" textLength="47" lengthAdjust="spacingAndGlyphs" >147.500</text>
<text x="1878.5" y="328.6" font-size="13" fill="#5d5d5d" text-anchor="middle" font-weight="normal" textLength="47" lengthAdjust="spacingAndGlyphs" >145.000</text>
<text x="1878.5" y="372.6" font-size="13" fill="#5d5d5d" text-anchor="middle" font-weight="normal" textLength="47" lengthAdjust="spacingAndGlyphs" >142.500</text>
<text x="1878.5" y="415.6" font-size="13" fill="#5d5d5d" text-anchor="middle" font-weight="normal" textLength="47" lengthAdjust="spacingAndGlyphs" >140.000</text>
<text x="1878.5" y="458.6" font-size="13" fill="#5d5d5d" text-anchor="middle" font-weight="normal" textLength="47" lengthAdjust="spacingAndGlyphs" >137.500</text>
<text x="1878.5" y="501.6" font-size="13" fill="#5d5d5d" text-anchor="middle" font-weight="normal" textLength="47" lengthAdjust="spacingAndGlyphs" >135.000</text>
<text x="1878.5" y="545.6" font-size="13" fill="#5d5d5d" text-anchor="middle" font-weight="normal" textLength="47" lengthAdjust="spacingAndGlyphs" >132.500</text>
<text x="1878.5" y="588.6" font-size="13" fill="#5d5d5d" text-anchor="middle" font-weight="normal" textLength="47" lengthAdjust="spacingAndGlyphs" >130.000</text>
<text x="1878.5" y="631.6" font-size="13" fill="#5d5d5d" text-anchor="middle" font-weight="normal" textLength="47" lengthAdjust="spacingAndGlyphs" >127.500</text>
<text x="1854.5" y="696.6" font-size="13" fill="#5d5d5d" text-anchor="start" font-weight="normal" textLength="32.7" lengthAdjust="spacingAndGlyphs" >75.00</text>
<text x="1854.5" y="731.9" font-size="13" fill="#5d5d5d" text-anchor="start" font-weight="normal" textLength="32.7" lengthAdjust="spacingAndGlyphs" >50.00</text>
<rect x="1844" y="630" width="76" height="37" fill="#fff"/>
<path d="M1844,198.8 H1905.8 a2,2 0 0 1 2,2 V215.2 a2,2 0 0 1 -2,2 H1844 Z" fill="#000"/>
<text x="1855.6" y="212.8" font-size="13.5" fill="#fff" text-anchor="start" font-weight="bold" textLength="47.4" lengthAdjust="spacingAndGlyphs" >151.685</text>
<path d="M1844,265.8 H1905.8 a2,2 0 0 1 2,2 V282.2 a2,2 0 0 1 -2,2 H1844 Z" fill="#000"/>
<text x="1855.6" y="279.8" font-size="13.5" fill="#fff" text-anchor="start" font-weight="bold" textLength="47.4" lengthAdjust="spacingAndGlyphs" >148.529</text>
<path d="M1844,299.8 H1905.8 a2,2 0 0 1 2,2 V316.2 a2,2 0 0 1 -2,2 H1844 Z" fill="#000"/>
<text x="1855.6" y="313.8" font-size="13.5" fill="#fff" text-anchor="start" font-weight="bold" textLength="47.4" lengthAdjust="spacingAndGlyphs" >145.891</text>
<path d="M1844,340.8 H1905.8 a2,2 0 0 1 2,2 V357.2 a2,2 0 0 1 -2,2 H1844 Z" fill="#000"/>
<text x="1855.6" y="354.8" font-size="13.5" fill="#fff" text-anchor="start" font-weight="bold" textLength="47.4" lengthAdjust="spacingAndGlyphs" >143.495</text>
<path d="M1844,383.8 H1905.8 a2,2 0 0 1 2,2 V400.2 a2,2 0 0 1 -2,2 H1844 Z" fill="#000"/>
<text x="1855.6" y="397.8" font-size="13.5" fill="#fff" text-anchor="start" font-weight="bold" textLength="47.4" lengthAdjust="spacingAndGlyphs" >141.032</text>
<path d="M1844,440.8 H1905.8 a2,2 0 0 1 2,2 V457.2 a2,2 0 0 1 -2,2 H1844 Z" fill="#000"/>
<text x="1855.6" y="454.8" font-size="13.5" fill="#fff" text-anchor="start" font-weight="bold" textLength="47.4" lengthAdjust="spacingAndGlyphs" >137.712</text>
<path d="M1790.5,246 H1910.5 a2.3,2.3 0 0 1 2.3,2.3 V262.5 a2.3,2.3 0 0 1 -2.3,2.3 H1790.5 a2.3,2.3 0 0 1 -2.3,-2.3 V248.3 a2.3,2.3 0 0 1 2.3,-2.3 Z" fill="#4fb886"/>
<text x="1792.8" y="260.8" font-size="13.5" fill="#0e2a1c" text-anchor="start" font-weight="normal" textLength="45.2" lengthAdjust="spacingAndGlyphs" >USDJPY</text>
<text x="1855.5" y="260.8" font-size="13.5" fill="#0e2a1c" text-anchor="start" font-weight="normal" textLength="52.5" lengthAdjust="spacingAndGlyphs" >21:48:24</text>
<rect x="1848.5" y="2.5" width="66" height="31" rx="4" fill="#fff" stroke="#e0e3eb" stroke-width="1"/>
<text x="1852.7" y="21.75" font-size="13" fill="#131722" text-anchor="start" font-weight="normal" textLength="20.6" lengthAdjust="spacingAndGlyphs" >JPY</text>
<polyline points="1903.5,16.3 1906.5,19.2 1909.5,16.3" fill="none" stroke="#131722" stroke-width="1.5"/>
<rect x="1854" y="634.8" width="25" height="26.5" rx="4.5" fill="#2962ff"/>
<text x="1866.5" y="654.0999999999999" font-size="17.5" fill="#fff" text-anchor="middle" font-weight="normal" >A</text>
<rect x="1884.5" y="635.3" width="24" height="25.5" rx="4.5" fill="#fff" stroke="#e0e3eb" stroke-width="1"/>
<text x="1896.6" y="654.0999999999999" font-size="17.5" fill="#131722" text-anchor="middle" font-weight="normal" >L</text>
<rect x="1854" y="755.4" width="25" height="26.5" rx="4.5" fill="#2962ff"/>
<text x="1866.5" y="774.6999999999999" font-size="17.5" fill="#fff" text-anchor="middle" font-weight="normal" >A</text>
<rect x="1884.5" y="755.9" width="24" height="25.5" rx="4.5" fill="#fff" stroke="#e0e3eb" stroke-width="1"/>
<text x="1896.6" y="774.6999999999999" font-size="17.5" fill="#131722" text-anchor="middle" font-weight="normal" >L</text>
<polygon points="1890.60,805.00 1886.30,812.45 1877.70,812.45 1873.40,805.00 1877.70,797.55 1886.30,797.55" fill="none" stroke="#131722" stroke-width="1.4"/>
<circle cx="1882" cy="805" r="2.6" fill="none" stroke="#131722" stroke-width="1.4"/>
<clipPath id="tac"><rect x="0" y="788" width="1843" height="34"/></clipPath><g clip-path="url(#tac)"><text x="-11.8" y="809" font-size="14.2" fill="#454545" text-anchor="start" font-weight="bold" textLength="30.6" lengthAdjust="spacingAndGlyphs" >2023</text><text x="164.5" y="808.75" font-size="13.5" fill="#6a6a6a" text-anchor="middle" font-weight="normal" >Mar</text><text x="329.5" y="808.75" font-size="13.5" fill="#6a6a6a" text-anchor="middle" font-weight="normal" >May</text><text x="502.5" y="808.75" font-size="13.5" fill="#6a6a6a" text-anchor="middle" font-weight="normal" >Jul</text><text x="670.5" y="808.75" font-size="13.5" fill="#6a6a6a" text-anchor="middle" font-weight="normal" >Sep</text><text x="835.5" y="808.75" font-size="13.5" fill="#6a6a6a" text-anchor="middle" font-weight="normal" >Nov</text><text x="985.2" y="809" font-size="14.2" fill="#454545" text-anchor="start" font-weight="bold" textLength="30.6" lengthAdjust="spacingAndGlyphs" >2024</text><text x="1165.5" y="808.75" font-size="13.5" fill="#6a6a6a" text-anchor="middle" font-weight="normal" >Mar</text><text x="1330.5" y="808.75" font-size="13.5" fill="#6a6a6a" text-anchor="middle" font-weight="normal" >May</text><text x="1495.5" y="808.75" font-size="13.5" fill="#6a6a6a" text-anchor="middle" font-weight="normal" >Jul</text><text x="1667.5" y="808.75" font-size="13.5" fill="#6a6a6a" text-anchor="middle" font-weight="normal" >Sep</text><text x="1836.5" y="808.75" font-size="13.5" fill="#6a6a6a" text-anchor="middle" font-weight="normal" >Nov</text></g>
<text x="18.5" y="852.75" font-size="17.5" fill="#131722" text-anchor="start" font-weight="normal" textLength="18.75" lengthAdjust="spacingAndGlyphs" >1D</text>
<text x="53.5" y="852.75" font-size="17.5" fill="#131722" text-anchor="start" font-weight="normal" textLength="18.4" lengthAdjust="spacingAndGlyphs" >5D</text>
<text x="88.5" y="852.75" font-size="17.5" fill="#131722" text-anchor="start" font-weight="normal" textLength="20.25" lengthAdjust="spacingAndGlyphs" >1M</text>
<text x="125" y="852.75" font-size="17.5" fill="#131722" text-anchor="start" font-weight="normal" textLength="20.6" lengthAdjust="spacingAndGlyphs" >3M</text>
<text x="161" y="852.75" font-size="17.5" fill="#131722" text-anchor="start" font-weight="normal" textLength="21.25" lengthAdjust="spacingAndGlyphs" >6M</text>
<text x="197.5" y="852.75" font-size="17.5" fill="#131722" text-anchor="start" font-weight="normal" textLength="30.25" lengthAdjust="spacingAndGlyphs" >YTD</text>
<text x="244.3" y="852.75" font-size="17.5" fill="#131722" text-anchor="start" font-weight="normal" textLength="17.3" lengthAdjust="spacingAndGlyphs" >1Y</text>
<text x="278.4" y="852.75" font-size="17.5" fill="#131722" text-anchor="start" font-weight="normal" textLength="17.4" lengthAdjust="spacingAndGlyphs" >5Y</text>
<text x="311.8" y="852.75" font-size="17.5" fill="#131722" text-anchor="start" font-weight="normal" textLength="20" lengthAdjust="spacingAndGlyphs" >All</text>
<rect x="345" y="833.5" width="1" height="26.5" fill="#e0e3eb"/>
<path d="M363.6,845 V840.2 a3,3 0 0 1 3,-3 H382.4 a3,3 0 0 1 3,3 V853.2 a3,3 0 0 1 -3,3 H374.6" fill="none" stroke="#363a45" stroke-width="1.8"/>
<path d="M363.6,842 H385.4 M370,834.2 V839.2 M378.6,834.2 V839.2" fill="none" stroke="#363a45" stroke-width="1.8"/>
<path d="M362,852.1 H371 M367.2,847.7 L371.4,852.1 L367.2,856.5" fill="none" stroke="#363a45" stroke-width="1.8"/>
<text x="1790.1" y="853.3" font-size="17.5" fill="#131722" text-anchor="start" font-weight="normal" textLength="116.6" lengthAdjust="spacingAndGlyphs" >23:11:35 (UTC)</text>
</svg>
</body></html>
